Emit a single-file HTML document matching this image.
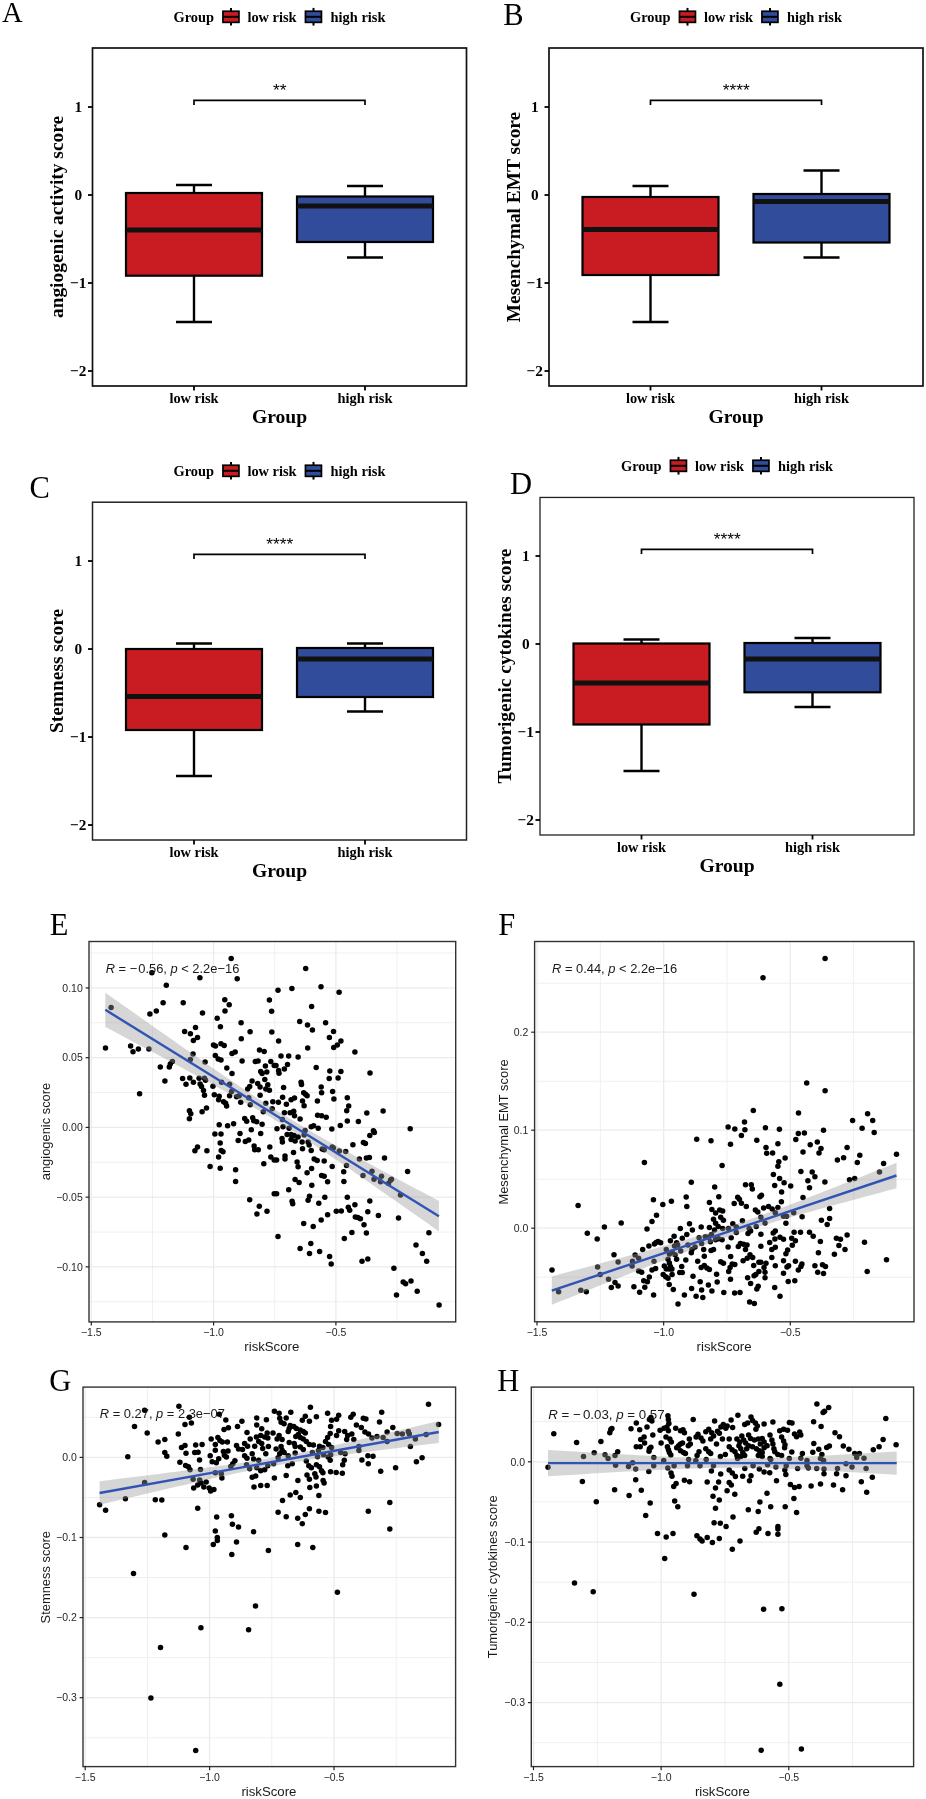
<!DOCTYPE html>
<html><head><meta charset="utf-8"><title>Figure</title>
<style>
html,body{margin:0;padding:0;background:#fff;}
body{width:926px;height:1799px;overflow:hidden;font-family:"Liberation Sans", sans-serif;}
svg{display:block;will-change:transform;}
</style></head>
<body>
<svg width="926" height="1799" viewBox="0 0 926 1799">
<rect x="0" y="0" width="926" height="1799" fill="#fff"/>
<text x="1.9" y="22.4" font-family="'Liberation Serif', serif" font-size="28.6" fill="#000">A</text>
<text x="173.5" y="21.9" font-family="'Liberation Serif', serif" font-weight="bold" font-size="14.4" fill="#000">Group</text>
<line x1="231.0" y1="7.9" x2="231.0" y2="25.6" stroke="#000" stroke-width="2"/>
<rect x="222.95" y="11.25" width="16" height="11.1" fill="#C81C22" stroke="#000" stroke-width="1.7"/>
<line x1="223.1" y1="16.8" x2="238.9" y2="16.8" stroke="#000" stroke-width="2"/>
<text x="247.4" y="21.9" font-family="'Liberation Serif', serif" font-weight="bold" font-size="14.4" fill="#000">low risk</text>
<line x1="313.5" y1="7.9" x2="313.5" y2="25.6" stroke="#000" stroke-width="2"/>
<rect x="305.45000000000005" y="11.25" width="16" height="11.1" fill="#324C9C" stroke="#000" stroke-width="1.7"/>
<line x1="305.6" y1="16.8" x2="321.40000000000003" y2="16.8" stroke="#000" stroke-width="2"/>
<text x="330.6" y="21.9" font-family="'Liberation Serif', serif" font-weight="bold" font-size="14.4" fill="#000">high risk</text>
<rect x="92.5" y="48" width="374" height="338" fill="none" stroke="#111" stroke-width="1.7"/>
<line x1="88" y1="107" x2="92.5" y2="107" stroke="#000" stroke-width="1.8"/>
<text x="78.3" y="112.1" text-anchor="middle" font-family="'Liberation Serif', serif" font-weight="bold" font-size="15.3" fill="#000">1</text>
<line x1="88" y1="195" x2="92.5" y2="195" stroke="#000" stroke-width="1.8"/>
<text x="78.3" y="200.1" text-anchor="middle" font-family="'Liberation Serif', serif" font-weight="bold" font-size="15.3" fill="#000">0</text>
<line x1="88" y1="283" x2="92.5" y2="283" stroke="#000" stroke-width="1.8"/>
<text x="78.3" y="288.1" text-anchor="middle" font-family="'Liberation Serif', serif" font-weight="bold" font-size="15.3" fill="#000">−1</text>
<line x1="88" y1="371" x2="92.5" y2="371" stroke="#000" stroke-width="1.8"/>
<text x="78.3" y="376.1" text-anchor="middle" font-family="'Liberation Serif', serif" font-weight="bold" font-size="15.3" fill="#000">−2</text>
<line x1="194" y1="386" x2="194" y2="390.5" stroke="#000" stroke-width="1.8"/>
<text x="194" y="402.9" text-anchor="middle" font-family="'Liberation Serif', serif" font-weight="bold" font-size="14.4" fill="#000">low risk</text>
<line x1="365" y1="386" x2="365" y2="390.5" stroke="#000" stroke-width="1.8"/>
<text x="365" y="402.9" text-anchor="middle" font-family="'Liberation Serif', serif" font-weight="bold" font-size="14.4" fill="#000">high risk</text>
<text x="279.5" y="422.9" text-anchor="middle" font-family="'Liberation Serif', serif" font-weight="bold" font-size="19.6" fill="#000">Group</text>
<text transform="translate(63.2,217) rotate(-90)" x="0" y="0" text-anchor="middle" font-family="'Liberation Serif', serif" font-weight="bold" font-size="19.4" fill="#000">angiogenic activity score</text>
<path d="M194 105 V100.3 H365 V105" fill="none" stroke="#000" stroke-width="1.7"/>
<text x="279.8" y="96.4" text-anchor="middle" font-family="'Liberation Sans', sans-serif" font-size="17.4" fill="#000">**</text>
<line x1="194" y1="185" x2="194" y2="322" stroke="#000" stroke-width="2.4"/>
<line x1="176" y1="185" x2="212" y2="185" stroke="#000" stroke-width="2.4"/>
<line x1="176" y1="322" x2="212" y2="322" stroke="#000" stroke-width="2.4"/>
<rect x="126" y="193" width="136" height="82.69999999999999" fill="#C81C22" stroke="#000" stroke-width="2.2"/>
<line x1="126" y1="230" x2="262" y2="230" stroke="#111" stroke-width="5"/>
<line x1="365" y1="186" x2="365" y2="257.5" stroke="#000" stroke-width="2.4"/>
<line x1="347" y1="186" x2="383" y2="186" stroke="#000" stroke-width="2.4"/>
<line x1="347" y1="257.5" x2="383" y2="257.5" stroke="#000" stroke-width="2.4"/>
<rect x="297" y="196.5" width="136" height="45.5" fill="#324C9C" stroke="#000" stroke-width="2.2"/>
<line x1="297" y1="206" x2="433" y2="206" stroke="#111" stroke-width="5"/>
<text x="503.2" y="25.1" font-family="'Liberation Serif', serif" font-size="30.5" fill="#000">B</text>
<text x="630.0" y="21.9" font-family="'Liberation Serif', serif" font-weight="bold" font-size="14.4" fill="#000">Group</text>
<line x1="687.5" y1="7.9" x2="687.5" y2="25.6" stroke="#000" stroke-width="2"/>
<rect x="679.45" y="11.25" width="16" height="11.1" fill="#C81C22" stroke="#000" stroke-width="1.7"/>
<line x1="679.6" y1="16.8" x2="695.4" y2="16.8" stroke="#000" stroke-width="2"/>
<text x="703.9" y="21.9" font-family="'Liberation Serif', serif" font-weight="bold" font-size="14.4" fill="#000">low risk</text>
<line x1="770.0" y1="7.9" x2="770.0" y2="25.6" stroke="#000" stroke-width="2"/>
<rect x="761.95" y="11.25" width="16" height="11.1" fill="#324C9C" stroke="#000" stroke-width="1.7"/>
<line x1="762.1" y1="16.8" x2="777.9" y2="16.8" stroke="#000" stroke-width="2"/>
<text x="787.1" y="21.9" font-family="'Liberation Serif', serif" font-weight="bold" font-size="14.4" fill="#000">high risk</text>
<rect x="549.0" y="48" width="374" height="338" fill="none" stroke="#111" stroke-width="1.7"/>
<line x1="544.5" y1="107" x2="549.0" y2="107" stroke="#000" stroke-width="1.8"/>
<text x="534.8" y="112.1" text-anchor="middle" font-family="'Liberation Serif', serif" font-weight="bold" font-size="15.3" fill="#000">1</text>
<line x1="544.5" y1="195" x2="549.0" y2="195" stroke="#000" stroke-width="1.8"/>
<text x="534.8" y="200.1" text-anchor="middle" font-family="'Liberation Serif', serif" font-weight="bold" font-size="15.3" fill="#000">0</text>
<line x1="544.5" y1="283" x2="549.0" y2="283" stroke="#000" stroke-width="1.8"/>
<text x="534.8" y="288.1" text-anchor="middle" font-family="'Liberation Serif', serif" font-weight="bold" font-size="15.3" fill="#000">−1</text>
<line x1="544.5" y1="371" x2="549.0" y2="371" stroke="#000" stroke-width="1.8"/>
<text x="534.8" y="376.1" text-anchor="middle" font-family="'Liberation Serif', serif" font-weight="bold" font-size="15.3" fill="#000">−2</text>
<line x1="650.5" y1="386" x2="650.5" y2="390.5" stroke="#000" stroke-width="1.8"/>
<text x="650.5" y="402.9" text-anchor="middle" font-family="'Liberation Serif', serif" font-weight="bold" font-size="14.4" fill="#000">low risk</text>
<line x1="821.5" y1="386" x2="821.5" y2="390.5" stroke="#000" stroke-width="1.8"/>
<text x="821.5" y="402.9" text-anchor="middle" font-family="'Liberation Serif', serif" font-weight="bold" font-size="14.4" fill="#000">high risk</text>
<text x="736.0" y="422.9" text-anchor="middle" font-family="'Liberation Serif', serif" font-weight="bold" font-size="19.6" fill="#000">Group</text>
<text transform="translate(519.7,217) rotate(-90)" x="0" y="0" text-anchor="middle" font-family="'Liberation Serif', serif" font-weight="bold" font-size="19.4" fill="#000">Mesenchymal EMT score</text>
<path d="M650.5 105 V100.3 H821.5 V105" fill="none" stroke="#000" stroke-width="1.7"/>
<text x="736.3" y="96.4" text-anchor="middle" font-family="'Liberation Sans', sans-serif" font-size="17.4" fill="#000">****</text>
<line x1="650.5" y1="186" x2="650.5" y2="322" stroke="#000" stroke-width="2.4"/>
<line x1="632.5" y1="186" x2="668.5" y2="186" stroke="#000" stroke-width="2.4"/>
<line x1="632.5" y1="322" x2="668.5" y2="322" stroke="#000" stroke-width="2.4"/>
<rect x="582.5" y="197" width="136" height="78" fill="#C81C22" stroke="#000" stroke-width="2.2"/>
<line x1="582.5" y1="229.5" x2="718.5" y2="229.5" stroke="#111" stroke-width="5"/>
<line x1="821.5" y1="170.5" x2="821.5" y2="257.5" stroke="#000" stroke-width="2.4"/>
<line x1="803.5" y1="170.5" x2="839.5" y2="170.5" stroke="#000" stroke-width="2.4"/>
<line x1="803.5" y1="257.5" x2="839.5" y2="257.5" stroke="#000" stroke-width="2.4"/>
<rect x="753.5" y="194" width="136" height="48.5" fill="#324C9C" stroke="#000" stroke-width="2.2"/>
<line x1="753.5" y1="201.5" x2="889.5" y2="201.5" stroke="#111" stroke-width="5"/>
<text x="29.6" y="497.6" font-family="'Liberation Serif', serif" font-size="30.5" fill="#000">C</text>
<text x="173.5" y="475.9" font-family="'Liberation Serif', serif" font-weight="bold" font-size="14.4" fill="#000">Group</text>
<line x1="231.0" y1="461.9" x2="231.0" y2="479.59999999999997" stroke="#000" stroke-width="2"/>
<rect x="222.95" y="465.25" width="16" height="11.1" fill="#C81C22" stroke="#000" stroke-width="1.7"/>
<line x1="223.1" y1="470.79999999999995" x2="238.9" y2="470.79999999999995" stroke="#000" stroke-width="2"/>
<text x="247.4" y="475.9" font-family="'Liberation Serif', serif" font-weight="bold" font-size="14.4" fill="#000">low risk</text>
<line x1="313.5" y1="461.9" x2="313.5" y2="479.59999999999997" stroke="#000" stroke-width="2"/>
<rect x="305.45000000000005" y="465.25" width="16" height="11.1" fill="#324C9C" stroke="#000" stroke-width="1.7"/>
<line x1="305.6" y1="470.79999999999995" x2="321.40000000000003" y2="470.79999999999995" stroke="#000" stroke-width="2"/>
<text x="330.6" y="475.9" font-family="'Liberation Serif', serif" font-weight="bold" font-size="14.4" fill="#000">high risk</text>
<rect x="92.5" y="502.2" width="374" height="337.8" fill="none" stroke="#222" stroke-width="1.5"/>
<line x1="88" y1="561" x2="92.5" y2="561" stroke="#000" stroke-width="1.8"/>
<text x="78.3" y="566.1" text-anchor="middle" font-family="'Liberation Serif', serif" font-weight="bold" font-size="15.3" fill="#000">1</text>
<line x1="88" y1="649" x2="92.5" y2="649" stroke="#000" stroke-width="1.8"/>
<text x="78.3" y="654.1" text-anchor="middle" font-family="'Liberation Serif', serif" font-weight="bold" font-size="15.3" fill="#000">0</text>
<line x1="88" y1="737" x2="92.5" y2="737" stroke="#000" stroke-width="1.8"/>
<text x="78.3" y="742.1" text-anchor="middle" font-family="'Liberation Serif', serif" font-weight="bold" font-size="15.3" fill="#000">−1</text>
<line x1="88" y1="825" x2="92.5" y2="825" stroke="#000" stroke-width="1.8"/>
<text x="78.3" y="830.1" text-anchor="middle" font-family="'Liberation Serif', serif" font-weight="bold" font-size="15.3" fill="#000">−2</text>
<line x1="194" y1="840" x2="194" y2="844.5" stroke="#000" stroke-width="1.8"/>
<text x="194" y="856.9" text-anchor="middle" font-family="'Liberation Serif', serif" font-weight="bold" font-size="14.4" fill="#000">low risk</text>
<line x1="365" y1="840" x2="365" y2="844.5" stroke="#000" stroke-width="1.8"/>
<text x="365" y="856.9" text-anchor="middle" font-family="'Liberation Serif', serif" font-weight="bold" font-size="14.4" fill="#000">high risk</text>
<text x="279.5" y="876.9" text-anchor="middle" font-family="'Liberation Serif', serif" font-weight="bold" font-size="19.6" fill="#000">Group</text>
<text transform="translate(63.2,671) rotate(-90)" x="0" y="0" text-anchor="middle" font-family="'Liberation Serif', serif" font-weight="bold" font-size="19.4" fill="#000">Stemness score</text>
<path d="M194 559 V554.3 H365 V559" fill="none" stroke="#000" stroke-width="1.7"/>
<text x="279.8" y="550.4" text-anchor="middle" font-family="'Liberation Sans', sans-serif" font-size="17.4" fill="#000">****</text>
<line x1="194" y1="643.5" x2="194" y2="776" stroke="#000" stroke-width="2.4"/>
<line x1="176" y1="643.5" x2="212" y2="643.5" stroke="#000" stroke-width="2.4"/>
<line x1="176" y1="776" x2="212" y2="776" stroke="#000" stroke-width="2.4"/>
<rect x="126" y="649" width="136" height="81" fill="#C81C22" stroke="#000" stroke-width="2.2"/>
<line x1="126" y1="696.5" x2="262" y2="696.5" stroke="#111" stroke-width="5"/>
<line x1="365" y1="643.5" x2="365" y2="711.5" stroke="#000" stroke-width="2.4"/>
<line x1="347" y1="643.5" x2="383" y2="643.5" stroke="#000" stroke-width="2.4"/>
<line x1="347" y1="711.5" x2="383" y2="711.5" stroke="#000" stroke-width="2.4"/>
<rect x="297" y="648" width="136" height="49" fill="#324C9C" stroke="#000" stroke-width="2.2"/>
<line x1="297" y1="659" x2="433" y2="659" stroke="#111" stroke-width="5"/>
<text x="509.9" y="494" font-family="'Liberation Serif', serif" font-size="30.5" fill="#000">D</text>
<text x="621.0" y="470.9" font-family="'Liberation Serif', serif" font-weight="bold" font-size="14.4" fill="#000">Group</text>
<line x1="678.5" y1="456.9" x2="678.5" y2="474.59999999999997" stroke="#000" stroke-width="2"/>
<rect x="670.45" y="460.25" width="16" height="11.1" fill="#C81C22" stroke="#000" stroke-width="1.7"/>
<line x1="670.6" y1="465.79999999999995" x2="686.4" y2="465.79999999999995" stroke="#000" stroke-width="2"/>
<text x="694.9" y="470.9" font-family="'Liberation Serif', serif" font-weight="bold" font-size="14.4" fill="#000">low risk</text>
<line x1="761.0" y1="456.9" x2="761.0" y2="474.59999999999997" stroke="#000" stroke-width="2"/>
<rect x="752.95" y="460.25" width="16" height="11.1" fill="#324C9C" stroke="#000" stroke-width="1.7"/>
<line x1="753.1" y1="465.79999999999995" x2="768.9" y2="465.79999999999995" stroke="#000" stroke-width="2"/>
<text x="778.1" y="470.9" font-family="'Liberation Serif', serif" font-weight="bold" font-size="14.4" fill="#000">high risk</text>
<rect x="540.0" y="497.45" width="374" height="337.55" fill="none" stroke="#222" stroke-width="1.3"/>
<line x1="535.5" y1="556" x2="540.0" y2="556" stroke="#000" stroke-width="1.8"/>
<text x="525.8" y="561.1" text-anchor="middle" font-family="'Liberation Serif', serif" font-weight="bold" font-size="15.3" fill="#000">1</text>
<line x1="535.5" y1="644" x2="540.0" y2="644" stroke="#000" stroke-width="1.8"/>
<text x="525.8" y="649.1" text-anchor="middle" font-family="'Liberation Serif', serif" font-weight="bold" font-size="15.3" fill="#000">0</text>
<line x1="535.5" y1="732" x2="540.0" y2="732" stroke="#000" stroke-width="1.8"/>
<text x="525.8" y="737.1" text-anchor="middle" font-family="'Liberation Serif', serif" font-weight="bold" font-size="15.3" fill="#000">−1</text>
<line x1="535.5" y1="820" x2="540.0" y2="820" stroke="#000" stroke-width="1.8"/>
<text x="525.8" y="825.1" text-anchor="middle" font-family="'Liberation Serif', serif" font-weight="bold" font-size="15.3" fill="#000">−2</text>
<line x1="641.5" y1="835" x2="641.5" y2="839.5" stroke="#000" stroke-width="1.8"/>
<text x="641.5" y="851.9" text-anchor="middle" font-family="'Liberation Serif', serif" font-weight="bold" font-size="14.4" fill="#000">low risk</text>
<line x1="812.5" y1="835" x2="812.5" y2="839.5" stroke="#000" stroke-width="1.8"/>
<text x="812.5" y="851.9" text-anchor="middle" font-family="'Liberation Serif', serif" font-weight="bold" font-size="14.4" fill="#000">high risk</text>
<text x="727.0" y="871.9" text-anchor="middle" font-family="'Liberation Serif', serif" font-weight="bold" font-size="19.6" fill="#000">Group</text>
<text transform="translate(510.7,666) rotate(-90)" x="0" y="0" text-anchor="middle" font-family="'Liberation Serif', serif" font-weight="bold" font-size="19.4" fill="#000">Tumorigenic cytokines score</text>
<path d="M641.5 554 V549.3 H812.5 V554" fill="none" stroke="#000" stroke-width="1.7"/>
<text x="727.3" y="545.4" text-anchor="middle" font-family="'Liberation Sans', sans-serif" font-size="17.4" fill="#000">****</text>
<line x1="641.5" y1="639.5" x2="641.5" y2="771" stroke="#000" stroke-width="2.4"/>
<line x1="623.5" y1="639.5" x2="659.5" y2="639.5" stroke="#000" stroke-width="2.4"/>
<line x1="623.5" y1="771" x2="659.5" y2="771" stroke="#000" stroke-width="2.4"/>
<rect x="573.5" y="643.5" width="136" height="81.0" fill="#C81C22" stroke="#000" stroke-width="2.2"/>
<line x1="573.5" y1="683" x2="709.5" y2="683" stroke="#111" stroke-width="5"/>
<line x1="812.5" y1="638" x2="812.5" y2="707" stroke="#000" stroke-width="2.4"/>
<line x1="794.5" y1="638" x2="830.5" y2="638" stroke="#000" stroke-width="2.4"/>
<line x1="794.5" y1="707" x2="830.5" y2="707" stroke="#000" stroke-width="2.4"/>
<rect x="744.5" y="643" width="136" height="49.299999999999955" fill="#324C9C" stroke="#000" stroke-width="2.2"/>
<line x1="744.5" y1="659" x2="880.5" y2="659" stroke="#111" stroke-width="5"/>
<text x="49.7" y="935" font-family="'Liberation Serif', serif" font-size="30.5" fill="#000">E</text>
<line x1="152.45" y1="941.5" x2="152.45" y2="1321.9" stroke="#F0F0F0" stroke-width="1"/>
<line x1="274.75" y1="941.5" x2="274.75" y2="1321.9" stroke="#F0F0F0" stroke-width="1"/>
<line x1="397.05" y1="941.5" x2="397.05" y2="1321.9" stroke="#F0F0F0" stroke-width="1"/>
<line x1="89.0" y1="953.06" x2="455.7" y2="953.06" stroke="#F0F0F0" stroke-width="1"/>
<line x1="89.0" y1="1022.80" x2="455.7" y2="1022.80" stroke="#F0F0F0" stroke-width="1"/>
<line x1="89.0" y1="1092.53" x2="455.7" y2="1092.53" stroke="#F0F0F0" stroke-width="1"/>
<line x1="89.0" y1="1162.27" x2="455.7" y2="1162.27" stroke="#F0F0F0" stroke-width="1"/>
<line x1="89.0" y1="1232.00" x2="455.7" y2="1232.00" stroke="#F0F0F0" stroke-width="1"/>
<line x1="89.0" y1="1301.74" x2="455.7" y2="1301.74" stroke="#F0F0F0" stroke-width="1"/>
<line x1="91.30" y1="941.5" x2="91.30" y2="1321.9" stroke="#EBEBEB" stroke-width="1.3"/>
<line x1="213.60" y1="941.5" x2="213.60" y2="1321.9" stroke="#EBEBEB" stroke-width="1.3"/>
<line x1="335.90" y1="941.5" x2="335.90" y2="1321.9" stroke="#EBEBEB" stroke-width="1.3"/>
<line x1="89.0" y1="987.93" x2="455.7" y2="987.93" stroke="#EBEBEB" stroke-width="1.3"/>
<line x1="89.0" y1="1057.67" x2="455.7" y2="1057.67" stroke="#EBEBEB" stroke-width="1.3"/>
<line x1="89.0" y1="1127.40" x2="455.7" y2="1127.40" stroke="#EBEBEB" stroke-width="1.3"/>
<line x1="89.0" y1="1197.13" x2="455.7" y2="1197.13" stroke="#EBEBEB" stroke-width="1.3"/>
<line x1="89.0" y1="1266.87" x2="455.7" y2="1266.87" stroke="#EBEBEB" stroke-width="1.3"/>
<circle cx="231.2" cy="958.5" r="2.75" fill="#000"/>
<circle cx="151.9" cy="972.7" r="2.75" fill="#000"/>
<circle cx="199.9" cy="977.8" r="2.75" fill="#000"/>
<circle cx="237.2" cy="978.8" r="2.75" fill="#000"/>
<circle cx="166.3" cy="985.2" r="2.75" fill="#000"/>
<circle cx="269.4" cy="999.9" r="2.75" fill="#000"/>
<circle cx="224.8" cy="999.7" r="2.75" fill="#000"/>
<circle cx="229.2" cy="1004.7" r="2.75" fill="#000"/>
<circle cx="163.1" cy="1002.7" r="2.75" fill="#000"/>
<circle cx="183.2" cy="1002.7" r="2.75" fill="#000"/>
<circle cx="111.1" cy="1007.5" r="2.75" fill="#000"/>
<circle cx="156.3" cy="1010.9" r="2.75" fill="#000"/>
<circle cx="149.9" cy="1013.9" r="2.75" fill="#000"/>
<circle cx="202.5" cy="1012.9" r="2.75" fill="#000"/>
<circle cx="225.0" cy="1010.9" r="2.75" fill="#000"/>
<circle cx="271.6" cy="1011.3" r="2.75" fill="#000"/>
<circle cx="217.2" cy="1018.3" r="2.75" fill="#000"/>
<circle cx="241.1" cy="1022.8" r="2.75" fill="#000"/>
<circle cx="195.5" cy="1027.4" r="2.75" fill="#000"/>
<circle cx="220.4" cy="1026.8" r="2.75" fill="#000"/>
<circle cx="184.6" cy="1031.4" r="2.75" fill="#000"/>
<circle cx="190.4" cy="1033.8" r="2.75" fill="#000"/>
<circle cx="197.5" cy="1037.4" r="2.75" fill="#000"/>
<circle cx="193.4" cy="1040.4" r="2.75" fill="#000"/>
<circle cx="250.1" cy="1031.8" r="2.75" fill="#000"/>
<circle cx="271.8" cy="1032.0" r="2.75" fill="#000"/>
<circle cx="241.3" cy="1038.8" r="2.75" fill="#000"/>
<circle cx="105.5" cy="1047.9" r="2.75" fill="#000"/>
<circle cx="130.6" cy="1045.9" r="2.75" fill="#000"/>
<circle cx="133.0" cy="1051.7" r="2.75" fill="#000"/>
<circle cx="138.4" cy="1049.1" r="2.75" fill="#000"/>
<circle cx="148.9" cy="1049.1" r="2.75" fill="#000"/>
<circle cx="213.5" cy="1045.0" r="2.75" fill="#000"/>
<circle cx="215.5" cy="1045.9" r="2.75" fill="#000"/>
<circle cx="221.0" cy="1043.8" r="2.75" fill="#000"/>
<circle cx="224.2" cy="1045.4" r="2.75" fill="#000"/>
<circle cx="193.0" cy="1053.9" r="2.75" fill="#000"/>
<circle cx="190.4" cy="1059.5" r="2.75" fill="#000"/>
<circle cx="215.3" cy="1055.5" r="2.75" fill="#000"/>
<circle cx="218.2" cy="1058.9" r="2.75" fill="#000"/>
<circle cx="221.0" cy="1059.9" r="2.75" fill="#000"/>
<circle cx="232.0" cy="1053.5" r="2.75" fill="#000"/>
<circle cx="235.2" cy="1052.1" r="2.75" fill="#000"/>
<circle cx="259.5" cy="1050.1" r="2.75" fill="#000"/>
<circle cx="264.2" cy="1051.5" r="2.75" fill="#000"/>
<circle cx="172.4" cy="1061.5" r="2.75" fill="#000"/>
<circle cx="170.3" cy="1063.9" r="2.75" fill="#000"/>
<circle cx="169.3" cy="1066.9" r="2.75" fill="#000"/>
<circle cx="160.3" cy="1066.9" r="2.75" fill="#000"/>
<circle cx="205.1" cy="1062.1" r="2.75" fill="#000"/>
<circle cx="242.1" cy="1061.1" r="2.75" fill="#000"/>
<circle cx="255.3" cy="1061.5" r="2.75" fill="#000"/>
<circle cx="258.1" cy="1060.9" r="2.75" fill="#000"/>
<circle cx="270.8" cy="1061.5" r="2.75" fill="#000"/>
<circle cx="265.4" cy="1065.9" r="2.75" fill="#000"/>
<circle cx="274.2" cy="1065.5" r="2.75" fill="#000"/>
<circle cx="226.8" cy="1067.9" r="2.75" fill="#000"/>
<circle cx="232.0" cy="1073.6" r="2.75" fill="#000"/>
<circle cx="260.7" cy="1071.6" r="2.75" fill="#000"/>
<circle cx="266.8" cy="1072.0" r="2.75" fill="#000"/>
<circle cx="262.1" cy="1073.6" r="2.75" fill="#000"/>
<circle cx="164.9" cy="1081.0" r="2.75" fill="#000"/>
<circle cx="182.6" cy="1078.4" r="2.75" fill="#000"/>
<circle cx="189.8" cy="1078.0" r="2.75" fill="#000"/>
<circle cx="186.0" cy="1084.2" r="2.75" fill="#000"/>
<circle cx="193.4" cy="1082.2" r="2.75" fill="#000"/>
<circle cx="199.1" cy="1078.2" r="2.75" fill="#000"/>
<circle cx="204.5" cy="1078.2" r="2.75" fill="#000"/>
<circle cx="205.5" cy="1080.2" r="2.75" fill="#000"/>
<circle cx="200.1" cy="1084.0" r="2.75" fill="#000"/>
<circle cx="201.5" cy="1086.6" r="2.75" fill="#000"/>
<circle cx="212.9" cy="1086.2" r="2.75" fill="#000"/>
<circle cx="221.6" cy="1082.2" r="2.75" fill="#000"/>
<circle cx="229.6" cy="1084.2" r="2.75" fill="#000"/>
<circle cx="252.1" cy="1081.0" r="2.75" fill="#000"/>
<circle cx="257.7" cy="1083.6" r="2.75" fill="#000"/>
<circle cx="249.7" cy="1086.6" r="2.75" fill="#000"/>
<circle cx="247.7" cy="1089.0" r="2.75" fill="#000"/>
<circle cx="264.8" cy="1079.6" r="2.75" fill="#000"/>
<circle cx="267.8" cy="1084.8" r="2.75" fill="#000"/>
<circle cx="260.1" cy="1087.0" r="2.75" fill="#000"/>
<circle cx="265.8" cy="1089.0" r="2.75" fill="#000"/>
<circle cx="269.4" cy="1090.2" r="2.75" fill="#000"/>
<circle cx="203.5" cy="1090.6" r="2.75" fill="#000"/>
<circle cx="204.5" cy="1095.3" r="2.75" fill="#000"/>
<circle cx="214.3" cy="1094.7" r="2.75" fill="#000"/>
<circle cx="219.2" cy="1096.3" r="2.75" fill="#000"/>
<circle cx="218.6" cy="1099.7" r="2.75" fill="#000"/>
<circle cx="223.6" cy="1101.7" r="2.75" fill="#000"/>
<circle cx="226.6" cy="1106.1" r="2.75" fill="#000"/>
<circle cx="225.6" cy="1103.3" r="2.75" fill="#000"/>
<circle cx="231.6" cy="1091.6" r="2.75" fill="#000"/>
<circle cx="236.6" cy="1096.7" r="2.75" fill="#000"/>
<circle cx="239.2" cy="1095.7" r="2.75" fill="#000"/>
<circle cx="240.7" cy="1102.3" r="2.75" fill="#000"/>
<circle cx="248.7" cy="1097.7" r="2.75" fill="#000"/>
<circle cx="250.3" cy="1104.7" r="2.75" fill="#000"/>
<circle cx="229.6" cy="1095.7" r="2.75" fill="#000"/>
<circle cx="260.1" cy="1095.3" r="2.75" fill="#000"/>
<circle cx="265.8" cy="1103.3" r="2.75" fill="#000"/>
<circle cx="272.8" cy="1101.7" r="2.75" fill="#000"/>
<circle cx="272.2" cy="1108.7" r="2.75" fill="#000"/>
<circle cx="263.3" cy="1111.7" r="2.75" fill="#000"/>
<circle cx="139.6" cy="1093.7" r="2.75" fill="#000"/>
<circle cx="189.4" cy="1110.7" r="2.75" fill="#000"/>
<circle cx="190.8" cy="1113.7" r="2.75" fill="#000"/>
<circle cx="189.4" cy="1118.8" r="2.75" fill="#000"/>
<circle cx="206.5" cy="1108.1" r="2.75" fill="#000"/>
<circle cx="202.1" cy="1111.7" r="2.75" fill="#000"/>
<circle cx="244.7" cy="1118.4" r="2.75" fill="#000"/>
<circle cx="246.7" cy="1121.2" r="2.75" fill="#000"/>
<circle cx="252.7" cy="1117.8" r="2.75" fill="#000"/>
<circle cx="253.7" cy="1120.8" r="2.75" fill="#000"/>
<circle cx="256.7" cy="1121.8" r="2.75" fill="#000"/>
<circle cx="262.1" cy="1124.2" r="2.75" fill="#000"/>
<circle cx="219.2" cy="1124.8" r="2.75" fill="#000"/>
<circle cx="227.6" cy="1125.8" r="2.75" fill="#000"/>
<circle cx="233.6" cy="1123.8" r="2.75" fill="#000"/>
<circle cx="251.3" cy="1129.8" r="2.75" fill="#000"/>
<circle cx="305.7" cy="968.5" r="2.75" fill="#000"/>
<circle cx="278.0" cy="990.2" r="2.75" fill="#000"/>
<circle cx="291.9" cy="988.6" r="2.75" fill="#000"/>
<circle cx="321.0" cy="986.8" r="2.75" fill="#000"/>
<circle cx="339.1" cy="992.2" r="2.75" fill="#000"/>
<circle cx="311.6" cy="1006.5" r="2.75" fill="#000"/>
<circle cx="299.7" cy="1021.5" r="2.75" fill="#000"/>
<circle cx="307.5" cy="1025.0" r="2.75" fill="#000"/>
<circle cx="312.4" cy="1030.0" r="2.75" fill="#000"/>
<circle cx="325.6" cy="1022.8" r="2.75" fill="#000"/>
<circle cx="333.5" cy="1031.6" r="2.75" fill="#000"/>
<circle cx="329.4" cy="1037.4" r="2.75" fill="#000"/>
<circle cx="278.6" cy="1041.0" r="2.75" fill="#000"/>
<circle cx="307.7" cy="1048.1" r="2.75" fill="#000"/>
<circle cx="333.7" cy="1047.5" r="2.75" fill="#000"/>
<circle cx="337.3" cy="1045.0" r="2.75" fill="#000"/>
<circle cx="340.9" cy="1041.0" r="2.75" fill="#000"/>
<circle cx="354.9" cy="1052.1" r="2.75" fill="#000"/>
<circle cx="281.0" cy="1056.1" r="2.75" fill="#000"/>
<circle cx="288.7" cy="1056.1" r="2.75" fill="#000"/>
<circle cx="298.1" cy="1056.9" r="2.75" fill="#000"/>
<circle cx="276.0" cy="1065.5" r="2.75" fill="#000"/>
<circle cx="278.6" cy="1070.6" r="2.75" fill="#000"/>
<circle cx="279.0" cy="1073.2" r="2.75" fill="#000"/>
<circle cx="284.4" cy="1069.0" r="2.75" fill="#000"/>
<circle cx="287.5" cy="1064.5" r="2.75" fill="#000"/>
<circle cx="316.2" cy="1067.5" r="2.75" fill="#000"/>
<circle cx="329.8" cy="1071.0" r="2.75" fill="#000"/>
<circle cx="340.9" cy="1071.6" r="2.75" fill="#000"/>
<circle cx="329.2" cy="1078.4" r="2.75" fill="#000"/>
<circle cx="338.1" cy="1078.0" r="2.75" fill="#000"/>
<circle cx="370.0" cy="1073.0" r="2.75" fill="#000"/>
<circle cx="301.1" cy="1082.2" r="2.75" fill="#000"/>
<circle cx="301.5" cy="1084.6" r="2.75" fill="#000"/>
<circle cx="283.6" cy="1087.6" r="2.75" fill="#000"/>
<circle cx="321.2" cy="1087.0" r="2.75" fill="#000"/>
<circle cx="321.6" cy="1092.7" r="2.75" fill="#000"/>
<circle cx="332.6" cy="1091.6" r="2.75" fill="#000"/>
<circle cx="303.7" cy="1092.7" r="2.75" fill="#000"/>
<circle cx="305.5" cy="1094.3" r="2.75" fill="#000"/>
<circle cx="307.1" cy="1095.7" r="2.75" fill="#000"/>
<circle cx="282.6" cy="1097.3" r="2.75" fill="#000"/>
<circle cx="291.1" cy="1099.7" r="2.75" fill="#000"/>
<circle cx="294.5" cy="1098.1" r="2.75" fill="#000"/>
<circle cx="278.4" cy="1102.3" r="2.75" fill="#000"/>
<circle cx="286.4" cy="1104.3" r="2.75" fill="#000"/>
<circle cx="302.5" cy="1101.1" r="2.75" fill="#000"/>
<circle cx="304.1" cy="1105.7" r="2.75" fill="#000"/>
<circle cx="317.4" cy="1101.1" r="2.75" fill="#000"/>
<circle cx="333.9" cy="1098.9" r="2.75" fill="#000"/>
<circle cx="347.3" cy="1097.7" r="2.75" fill="#000"/>
<circle cx="348.7" cy="1106.1" r="2.75" fill="#000"/>
<circle cx="346.7" cy="1110.7" r="2.75" fill="#000"/>
<circle cx="284.4" cy="1112.7" r="2.75" fill="#000"/>
<circle cx="290.1" cy="1112.7" r="2.75" fill="#000"/>
<circle cx="293.7" cy="1111.3" r="2.75" fill="#000"/>
<circle cx="294.5" cy="1115.8" r="2.75" fill="#000"/>
<circle cx="300.1" cy="1119.0" r="2.75" fill="#000"/>
<circle cx="317.6" cy="1115.3" r="2.75" fill="#000"/>
<circle cx="321.6" cy="1115.8" r="2.75" fill="#000"/>
<circle cx="326.2" cy="1117.2" r="2.75" fill="#000"/>
<circle cx="282.4" cy="1119.4" r="2.75" fill="#000"/>
<circle cx="366.8" cy="1112.9" r="2.75" fill="#000"/>
<circle cx="383.1" cy="1110.9" r="2.75" fill="#000"/>
<circle cx="347.3" cy="1121.0" r="2.75" fill="#000"/>
<circle cx="358.4" cy="1121.6" r="2.75" fill="#000"/>
<circle cx="340.3" cy="1125.4" r="2.75" fill="#000"/>
<circle cx="311.2" cy="1126.8" r="2.75" fill="#000"/>
<circle cx="313.6" cy="1125.8" r="2.75" fill="#000"/>
<circle cx="318.2" cy="1128.2" r="2.75" fill="#000"/>
<circle cx="331.8" cy="1129.0" r="2.75" fill="#000"/>
<circle cx="283.0" cy="1126.8" r="2.75" fill="#000"/>
<circle cx="289.1" cy="1128.2" r="2.75" fill="#000"/>
<circle cx="277.0" cy="1128.8" r="2.75" fill="#000"/>
<circle cx="373.4" cy="1130.8" r="2.75" fill="#000"/>
<circle cx="410.2" cy="1128.8" r="2.75" fill="#000"/>
<circle cx="305.1" cy="1130.4" r="2.75" fill="#000"/>
<circle cx="214.9" cy="1134.0" r="2.75" fill="#000"/>
<circle cx="221.0" cy="1134.0" r="2.75" fill="#000"/>
<circle cx="240.0" cy="1133.4" r="2.75" fill="#000"/>
<circle cx="260.7" cy="1133.4" r="2.75" fill="#000"/>
<circle cx="238.2" cy="1140.6" r="2.75" fill="#000"/>
<circle cx="245.3" cy="1141.6" r="2.75" fill="#000"/>
<circle cx="248.7" cy="1140.0" r="2.75" fill="#000"/>
<circle cx="220.2" cy="1143.1" r="2.75" fill="#000"/>
<circle cx="254.1" cy="1146.1" r="2.75" fill="#000"/>
<circle cx="254.7" cy="1149.7" r="2.75" fill="#000"/>
<circle cx="258.3" cy="1149.7" r="2.75" fill="#000"/>
<circle cx="269.8" cy="1147.1" r="2.75" fill="#000"/>
<circle cx="197.5" cy="1147.1" r="2.75" fill="#000"/>
<circle cx="194.9" cy="1150.7" r="2.75" fill="#000"/>
<circle cx="206.9" cy="1150.7" r="2.75" fill="#000"/>
<circle cx="221.2" cy="1150.5" r="2.75" fill="#000"/>
<circle cx="223.0" cy="1151.7" r="2.75" fill="#000"/>
<circle cx="218.6" cy="1157.1" r="2.75" fill="#000"/>
<circle cx="270.8" cy="1157.1" r="2.75" fill="#000"/>
<circle cx="274.2" cy="1160.1" r="2.75" fill="#000"/>
<circle cx="263.8" cy="1163.7" r="2.75" fill="#000"/>
<circle cx="210.1" cy="1166.6" r="2.75" fill="#000"/>
<circle cx="220.2" cy="1168.2" r="2.75" fill="#000"/>
<circle cx="235.6" cy="1169.8" r="2.75" fill="#000"/>
<circle cx="235.6" cy="1181.6" r="2.75" fill="#000"/>
<circle cx="274.2" cy="1193.7" r="2.75" fill="#000"/>
<circle cx="249.7" cy="1199.7" r="2.75" fill="#000"/>
<circle cx="259.3" cy="1206.3" r="2.75" fill="#000"/>
<circle cx="267.0" cy="1211.3" r="2.75" fill="#000"/>
<circle cx="256.9" cy="1214.0" r="2.75" fill="#000"/>
<circle cx="287.1" cy="1134.6" r="2.75" fill="#000"/>
<circle cx="291.1" cy="1134.6" r="2.75" fill="#000"/>
<circle cx="294.1" cy="1135.4" r="2.75" fill="#000"/>
<circle cx="282.0" cy="1138.6" r="2.75" fill="#000"/>
<circle cx="282.4" cy="1142.0" r="2.75" fill="#000"/>
<circle cx="291.1" cy="1139.4" r="2.75" fill="#000"/>
<circle cx="295.1" cy="1141.0" r="2.75" fill="#000"/>
<circle cx="298.1" cy="1137.0" r="2.75" fill="#000"/>
<circle cx="304.1" cy="1135.0" r="2.75" fill="#000"/>
<circle cx="302.1" cy="1142.0" r="2.75" fill="#000"/>
<circle cx="308.1" cy="1142.0" r="2.75" fill="#000"/>
<circle cx="309.1" cy="1145.1" r="2.75" fill="#000"/>
<circle cx="302.5" cy="1148.7" r="2.75" fill="#000"/>
<circle cx="311.2" cy="1150.5" r="2.75" fill="#000"/>
<circle cx="293.5" cy="1152.5" r="2.75" fill="#000"/>
<circle cx="322.2" cy="1149.1" r="2.75" fill="#000"/>
<circle cx="324.2" cy="1149.7" r="2.75" fill="#000"/>
<circle cx="332.2" cy="1147.1" r="2.75" fill="#000"/>
<circle cx="333.3" cy="1148.1" r="2.75" fill="#000"/>
<circle cx="339.3" cy="1151.1" r="2.75" fill="#000"/>
<circle cx="345.7" cy="1151.5" r="2.75" fill="#000"/>
<circle cx="352.9" cy="1144.7" r="2.75" fill="#000"/>
<circle cx="363.4" cy="1142.4" r="2.75" fill="#000"/>
<circle cx="365.4" cy="1143.5" r="2.75" fill="#000"/>
<circle cx="369.8" cy="1135.4" r="2.75" fill="#000"/>
<circle cx="374.4" cy="1132.6" r="2.75" fill="#000"/>
<circle cx="359.4" cy="1159.1" r="2.75" fill="#000"/>
<circle cx="366.4" cy="1158.1" r="2.75" fill="#000"/>
<circle cx="369.4" cy="1157.5" r="2.75" fill="#000"/>
<circle cx="384.5" cy="1158.1" r="2.75" fill="#000"/>
<circle cx="276.6" cy="1160.1" r="2.75" fill="#000"/>
<circle cx="285.0" cy="1156.1" r="2.75" fill="#000"/>
<circle cx="285.0" cy="1159.1" r="2.75" fill="#000"/>
<circle cx="297.1" cy="1162.1" r="2.75" fill="#000"/>
<circle cx="298.1" cy="1166.8" r="2.75" fill="#000"/>
<circle cx="314.2" cy="1159.1" r="2.75" fill="#000"/>
<circle cx="317.2" cy="1160.5" r="2.75" fill="#000"/>
<circle cx="324.2" cy="1161.1" r="2.75" fill="#000"/>
<circle cx="332.2" cy="1166.6" r="2.75" fill="#000"/>
<circle cx="311.6" cy="1168.6" r="2.75" fill="#000"/>
<circle cx="307.1" cy="1172.8" r="2.75" fill="#000"/>
<circle cx="321.6" cy="1175.6" r="2.75" fill="#000"/>
<circle cx="324.2" cy="1176.2" r="2.75" fill="#000"/>
<circle cx="327.6" cy="1181.8" r="2.75" fill="#000"/>
<circle cx="295.1" cy="1179.6" r="2.75" fill="#000"/>
<circle cx="299.1" cy="1182.6" r="2.75" fill="#000"/>
<circle cx="311.8" cy="1185.2" r="2.75" fill="#000"/>
<circle cx="343.7" cy="1171.8" r="2.75" fill="#000"/>
<circle cx="346.5" cy="1165.5" r="2.75" fill="#000"/>
<circle cx="343.9" cy="1181.6" r="2.75" fill="#000"/>
<circle cx="363.0" cy="1175.6" r="2.75" fill="#000"/>
<circle cx="372.0" cy="1171.2" r="2.75" fill="#000"/>
<circle cx="374.0" cy="1179.2" r="2.75" fill="#000"/>
<circle cx="381.5" cy="1176.2" r="2.75" fill="#000"/>
<circle cx="380.5" cy="1181.8" r="2.75" fill="#000"/>
<circle cx="388.5" cy="1183.6" r="2.75" fill="#000"/>
<circle cx="390.5" cy="1180.2" r="2.75" fill="#000"/>
<circle cx="391.5" cy="1179.2" r="2.75" fill="#000"/>
<circle cx="407.6" cy="1171.6" r="2.75" fill="#000"/>
<circle cx="400.5" cy="1194.9" r="2.75" fill="#000"/>
<circle cx="288.7" cy="1189.7" r="2.75" fill="#000"/>
<circle cx="276.6" cy="1193.7" r="2.75" fill="#000"/>
<circle cx="309.5" cy="1196.3" r="2.75" fill="#000"/>
<circle cx="308.1" cy="1200.3" r="2.75" fill="#000"/>
<circle cx="292.1" cy="1201.3" r="2.75" fill="#000"/>
<circle cx="292.7" cy="1203.7" r="2.75" fill="#000"/>
<circle cx="324.8" cy="1197.3" r="2.75" fill="#000"/>
<circle cx="318.8" cy="1203.3" r="2.75" fill="#000"/>
<circle cx="347.3" cy="1197.3" r="2.75" fill="#000"/>
<circle cx="369.8" cy="1200.9" r="2.75" fill="#000"/>
<circle cx="354.9" cy="1204.7" r="2.75" fill="#000"/>
<circle cx="348.3" cy="1207.3" r="2.75" fill="#000"/>
<circle cx="349.7" cy="1210.3" r="2.75" fill="#000"/>
<circle cx="336.3" cy="1211.3" r="2.75" fill="#000"/>
<circle cx="341.3" cy="1210.9" r="2.75" fill="#000"/>
<circle cx="327.6" cy="1214.8" r="2.75" fill="#000"/>
<circle cx="321.2" cy="1220.0" r="2.75" fill="#000"/>
<circle cx="303.7" cy="1223.4" r="2.75" fill="#000"/>
<circle cx="313.2" cy="1226.4" r="2.75" fill="#000"/>
<circle cx="355.3" cy="1217.0" r="2.75" fill="#000"/>
<circle cx="357.8" cy="1217.4" r="2.75" fill="#000"/>
<circle cx="360.4" cy="1218.8" r="2.75" fill="#000"/>
<circle cx="367.8" cy="1211.7" r="2.75" fill="#000"/>
<circle cx="378.4" cy="1215.4" r="2.75" fill="#000"/>
<circle cx="364.0" cy="1224.8" r="2.75" fill="#000"/>
<circle cx="398.5" cy="1218.0" r="2.75" fill="#000"/>
<circle cx="366.4" cy="1233.0" r="2.75" fill="#000"/>
<circle cx="351.9" cy="1232.4" r="2.75" fill="#000"/>
<circle cx="344.3" cy="1238.5" r="2.75" fill="#000"/>
<circle cx="278.0" cy="1236.5" r="2.75" fill="#000"/>
<circle cx="310.8" cy="1243.5" r="2.75" fill="#000"/>
<circle cx="300.1" cy="1248.5" r="2.75" fill="#000"/>
<circle cx="309.5" cy="1253.5" r="2.75" fill="#000"/>
<circle cx="319.6" cy="1251.5" r="2.75" fill="#000"/>
<circle cx="329.6" cy="1256.5" r="2.75" fill="#000"/>
<circle cx="331.2" cy="1264.0" r="2.75" fill="#000"/>
<circle cx="362.0" cy="1261.2" r="2.75" fill="#000"/>
<circle cx="367.8" cy="1259.0" r="2.75" fill="#000"/>
<circle cx="428.9" cy="1232.8" r="2.75" fill="#000"/>
<circle cx="416.0" cy="1244.9" r="2.75" fill="#000"/>
<circle cx="422.4" cy="1253.5" r="2.75" fill="#000"/>
<circle cx="426.7" cy="1261.2" r="2.75" fill="#000"/>
<circle cx="393.9" cy="1268.2" r="2.75" fill="#000"/>
<circle cx="403.2" cy="1282.0" r="2.75" fill="#000"/>
<circle cx="405.6" cy="1283.7" r="2.75" fill="#000"/>
<circle cx="411.0" cy="1281.0" r="2.75" fill="#000"/>
<circle cx="417.2" cy="1291.3" r="2.75" fill="#000"/>
<circle cx="396.5" cy="1295.1" r="2.75" fill="#000"/>
<circle cx="439.1" cy="1305.1" r="2.75" fill="#000"/>
<polygon points="105.3,992.7 113.6,998.6 122.0,1004.5 130.3,1010.3 138.7,1016.2 147.0,1022.1 155.3,1027.9 163.7,1033.8 172.0,1039.6 180.4,1045.5 188.7,1051.3 197.0,1057.1 205.4,1062.9 213.7,1068.7 222.1,1074.4 230.4,1080.1 238.7,1085.7 247.1,1091.3 255.4,1096.9 263.8,1102.3 272.1,1107.7 280.4,1113.0 288.8,1118.1 297.1,1123.1 305.5,1128.1 313.8,1132.9 322.1,1137.7 330.5,1142.4 338.8,1147.0 347.2,1151.6 355.5,1156.2 363.8,1160.7 372.2,1165.3 380.5,1169.8 388.9,1174.2 397.2,1178.7 405.5,1183.2 413.9,1187.7 422.2,1192.1 430.6,1196.6 438.9,1201.0 438.9,1231.4 430.6,1225.5 422.2,1219.6 413.9,1213.8 405.5,1207.9 397.2,1202.1 388.9,1196.2 380.5,1190.4 372.2,1184.6 363.8,1178.8 355.5,1173.0 347.2,1167.3 338.8,1161.6 330.5,1155.9 322.1,1150.3 313.8,1144.7 305.5,1139.2 297.1,1133.8 288.8,1128.5 280.4,1123.4 272.1,1118.3 263.8,1113.3 255.4,1108.5 247.1,1103.7 238.7,1099.0 230.4,1094.3 222.1,1089.7 213.7,1085.1 205.4,1080.6 197.0,1076.0 188.7,1071.5 180.4,1067.0 172.0,1062.5 163.7,1058.0 155.3,1053.6 147.0,1049.1 138.7,1044.7 130.3,1040.2 122.0,1035.8 113.6,1031.3 105.3,1026.9" fill="#999999" fill-opacity="0.4"/>
<line x1="105.3" y1="1009.8" x2="438.9" y2="1216.2" stroke="#3053B5" stroke-width="2.4"/>
<rect x="89.0" y="941.5" width="366.70" height="380.40" fill="none" stroke="#333" stroke-width="1.4"/>
<line x1="91.30" y1="1321.9" x2="91.30" y2="1325.5" stroke="#222" stroke-width="1.2"/>
<text x="91.30" y="1336.10" text-anchor="middle" font-family="'Liberation Sans', sans-serif" font-size="10.5" fill="#262626">−1.5</text>
<line x1="213.60" y1="1321.9" x2="213.60" y2="1325.5" stroke="#222" stroke-width="1.2"/>
<text x="213.60" y="1336.10" text-anchor="middle" font-family="'Liberation Sans', sans-serif" font-size="10.5" fill="#262626">−1.0</text>
<line x1="335.90" y1="1321.9" x2="335.90" y2="1325.5" stroke="#222" stroke-width="1.2"/>
<text x="335.90" y="1336.10" text-anchor="middle" font-family="'Liberation Sans', sans-serif" font-size="10.5" fill="#262626">−0.5</text>
<line x1="85.6" y1="987.93" x2="89.0" y2="987.93" stroke="#222" stroke-width="1.2"/>
<text x="82.8" y="991.68" text-anchor="end" font-family="'Liberation Sans', sans-serif" font-size="10.5" fill="#262626">0.10</text>
<line x1="85.6" y1="1057.67" x2="89.0" y2="1057.67" stroke="#222" stroke-width="1.2"/>
<text x="82.8" y="1061.42" text-anchor="end" font-family="'Liberation Sans', sans-serif" font-size="10.5" fill="#262626">0.05</text>
<line x1="85.6" y1="1127.40" x2="89.0" y2="1127.40" stroke="#222" stroke-width="1.2"/>
<text x="82.8" y="1131.15" text-anchor="end" font-family="'Liberation Sans', sans-serif" font-size="10.5" fill="#262626">0.00</text>
<line x1="85.6" y1="1197.13" x2="89.0" y2="1197.13" stroke="#222" stroke-width="1.2"/>
<text x="82.8" y="1200.88" text-anchor="end" font-family="'Liberation Sans', sans-serif" font-size="10.5" fill="#262626">−0.05</text>
<line x1="85.6" y1="1266.87" x2="89.0" y2="1266.87" stroke="#222" stroke-width="1.2"/>
<text x="82.8" y="1270.62" text-anchor="end" font-family="'Liberation Sans', sans-serif" font-size="10.5" fill="#262626">−0.10</text>
<text x="271.8" y="1350.5" text-anchor="middle" font-family="'Liberation Sans', sans-serif" font-size="13.2" fill="#1a1a1a">riskScore</text>
<text transform="translate(50.0,1131.5) rotate(-90)" text-anchor="middle" font-family="'Liberation Sans', sans-serif" font-size="12.9" fill="#1a1a1a">angiogenic score</text>
<text x="105.7" y="972.5" font-family="'Liberation Sans', sans-serif" font-size="12.9" fill="#1a1a1a"><tspan font-style="italic">R</tspan> = −<tspan dx="1">0.56, </tspan><tspan font-style="italic">p</tspan> &lt; 2.2e−16</text>
<text x="498.2" y="935" font-family="'Liberation Serif', serif" font-size="30.5" fill="#000">F</text>
<line x1="600.33" y1="941.5" x2="600.33" y2="1321.8" stroke="#F0F0F0" stroke-width="1"/>
<line x1="726.98" y1="941.5" x2="726.98" y2="1321.8" stroke="#F0F0F0" stroke-width="1"/>
<line x1="853.62" y1="941.5" x2="853.62" y2="1321.8" stroke="#F0F0F0" stroke-width="1"/>
<line x1="534.6" y1="983.20" x2="914.0" y2="983.20" stroke="#F0F0F0" stroke-width="1"/>
<line x1="534.6" y1="1081.20" x2="914.0" y2="1081.20" stroke="#F0F0F0" stroke-width="1"/>
<line x1="534.6" y1="1179.20" x2="914.0" y2="1179.20" stroke="#F0F0F0" stroke-width="1"/>
<line x1="534.6" y1="1277.20" x2="914.0" y2="1277.20" stroke="#F0F0F0" stroke-width="1"/>
<line x1="537.00" y1="941.5" x2="537.00" y2="1321.8" stroke="#EBEBEB" stroke-width="1.3"/>
<line x1="663.65" y1="941.5" x2="663.65" y2="1321.8" stroke="#EBEBEB" stroke-width="1.3"/>
<line x1="790.30" y1="941.5" x2="790.30" y2="1321.8" stroke="#EBEBEB" stroke-width="1.3"/>
<line x1="534.6" y1="1032.20" x2="914.0" y2="1032.20" stroke="#EBEBEB" stroke-width="1.3"/>
<line x1="534.6" y1="1130.20" x2="914.0" y2="1130.20" stroke="#EBEBEB" stroke-width="1.3"/>
<line x1="534.6" y1="1228.20" x2="914.0" y2="1228.20" stroke="#EBEBEB" stroke-width="1.3"/>
<circle cx="825.1" cy="958.4" r="2.75" fill="#000"/>
<circle cx="763.0" cy="977.7" r="2.75" fill="#000"/>
<circle cx="806.7" cy="1083.0" r="2.75" fill="#000"/>
<circle cx="825.1" cy="1090.8" r="2.75" fill="#000"/>
<circle cx="753.3" cy="1110.5" r="2.75" fill="#000"/>
<circle cx="798.5" cy="1112.9" r="2.75" fill="#000"/>
<circle cx="744.5" cy="1122.0" r="2.75" fill="#000"/>
<circle cx="728.1" cy="1127.1" r="2.75" fill="#000"/>
<circle cx="734.8" cy="1128.9" r="2.75" fill="#000"/>
<circle cx="744.9" cy="1129.8" r="2.75" fill="#000"/>
<circle cx="765.4" cy="1127.7" r="2.75" fill="#000"/>
<circle cx="779.4" cy="1129.2" r="2.75" fill="#000"/>
<circle cx="852.6" cy="1120.5" r="2.75" fill="#000"/>
<circle cx="867.6" cy="1113.8" r="2.75" fill="#000"/>
<circle cx="872.7" cy="1120.5" r="2.75" fill="#000"/>
<circle cx="862.1" cy="1128.3" r="2.75" fill="#000"/>
<circle cx="823.5" cy="1130.2" r="2.75" fill="#000"/>
<circle cx="696.7" cy="1139.2" r="2.75" fill="#000"/>
<circle cx="711.0" cy="1140.8" r="2.75" fill="#000"/>
<circle cx="722.1" cy="1165.5" r="2.75" fill="#000"/>
<circle cx="644.4" cy="1162.4" r="2.75" fill="#000"/>
<circle cx="691.3" cy="1182.3" r="2.75" fill="#000"/>
<circle cx="714.7" cy="1187.0" r="2.75" fill="#000"/>
<circle cx="718.8" cy="1196.7" r="2.75" fill="#000"/>
<circle cx="686.2" cy="1197.1" r="2.75" fill="#000"/>
<circle cx="653.4" cy="1199.7" r="2.75" fill="#000"/>
<circle cx="662.8" cy="1204.5" r="2.75" fill="#000"/>
<circle cx="671.4" cy="1201.2" r="2.75" fill="#000"/>
<circle cx="686.8" cy="1206.5" r="2.75" fill="#000"/>
<circle cx="709.4" cy="1202.4" r="2.75" fill="#000"/>
<circle cx="711.9" cy="1209.4" r="2.75" fill="#000"/>
<circle cx="578.1" cy="1205.5" r="2.75" fill="#000"/>
<circle cx="656.5" cy="1215.3" r="2.75" fill="#000"/>
<circle cx="652.0" cy="1221.5" r="2.75" fill="#000"/>
<circle cx="647.0" cy="1229.1" r="2.75" fill="#000"/>
<circle cx="621.2" cy="1222.9" r="2.75" fill="#000"/>
<circle cx="604.4" cy="1227.0" r="2.75" fill="#000"/>
<circle cx="587.3" cy="1233.2" r="2.75" fill="#000"/>
<circle cx="597.2" cy="1239.1" r="2.75" fill="#000"/>
<circle cx="680.3" cy="1228.5" r="2.75" fill="#000"/>
<circle cx="689.5" cy="1223.7" r="2.75" fill="#000"/>
<circle cx="692.4" cy="1229.9" r="2.75" fill="#000"/>
<circle cx="686.8" cy="1234.6" r="2.75" fill="#000"/>
<circle cx="701.2" cy="1227.0" r="2.75" fill="#000"/>
<circle cx="709.4" cy="1227.4" r="2.75" fill="#000"/>
<circle cx="715.6" cy="1213.1" r="2.75" fill="#000"/>
<circle cx="719.7" cy="1210.0" r="2.75" fill="#000"/>
<circle cx="722.7" cy="1211.0" r="2.75" fill="#000"/>
<circle cx="713.5" cy="1219.2" r="2.75" fill="#000"/>
<circle cx="715.6" cy="1223.3" r="2.75" fill="#000"/>
<circle cx="718.2" cy="1226.4" r="2.75" fill="#000"/>
<circle cx="720.7" cy="1217.2" r="2.75" fill="#000"/>
<circle cx="723.4" cy="1220.3" r="2.75" fill="#000"/>
<circle cx="714.5" cy="1230.1" r="2.75" fill="#000"/>
<circle cx="722.7" cy="1228.5" r="2.75" fill="#000"/>
<circle cx="674.1" cy="1236.3" r="2.75" fill="#000"/>
<circle cx="682.3" cy="1238.3" r="2.75" fill="#000"/>
<circle cx="670.4" cy="1240.8" r="2.75" fill="#000"/>
<circle cx="656.1" cy="1242.4" r="2.75" fill="#000"/>
<circle cx="658.1" cy="1241.4" r="2.75" fill="#000"/>
<circle cx="660.6" cy="1242.8" r="2.75" fill="#000"/>
<circle cx="654.4" cy="1243.9" r="2.75" fill="#000"/>
<circle cx="648.9" cy="1245.9" r="2.75" fill="#000"/>
<circle cx="642.7" cy="1249.4" r="2.75" fill="#000"/>
<circle cx="676.6" cy="1242.8" r="2.75" fill="#000"/>
<circle cx="674.5" cy="1245.9" r="2.75" fill="#000"/>
<circle cx="677.6" cy="1244.9" r="2.75" fill="#000"/>
<circle cx="687.9" cy="1244.9" r="2.75" fill="#000"/>
<circle cx="666.3" cy="1249.6" r="2.75" fill="#000"/>
<circle cx="669.4" cy="1254.1" r="2.75" fill="#000"/>
<circle cx="672.1" cy="1252.1" r="2.75" fill="#000"/>
<circle cx="675.1" cy="1254.7" r="2.75" fill="#000"/>
<circle cx="680.7" cy="1251.0" r="2.75" fill="#000"/>
<circle cx="692.0" cy="1249.6" r="2.75" fill="#000"/>
<circle cx="691.3" cy="1252.7" r="2.75" fill="#000"/>
<circle cx="695.0" cy="1246.9" r="2.75" fill="#000"/>
<circle cx="699.1" cy="1237.7" r="2.75" fill="#000"/>
<circle cx="705.3" cy="1236.7" r="2.75" fill="#000"/>
<circle cx="708.4" cy="1237.3" r="2.75" fill="#000"/>
<circle cx="711.5" cy="1234.6" r="2.75" fill="#000"/>
<circle cx="715.6" cy="1239.7" r="2.75" fill="#000"/>
<circle cx="718.6" cy="1238.7" r="2.75" fill="#000"/>
<circle cx="722.1" cy="1239.7" r="2.75" fill="#000"/>
<circle cx="710.4" cy="1241.8" r="2.75" fill="#000"/>
<circle cx="701.6" cy="1243.4" r="2.75" fill="#000"/>
<circle cx="703.7" cy="1249.6" r="2.75" fill="#000"/>
<circle cx="711.0" cy="1250.4" r="2.75" fill="#000"/>
<circle cx="713.5" cy="1249.6" r="2.75" fill="#000"/>
<circle cx="704.3" cy="1256.2" r="2.75" fill="#000"/>
<circle cx="697.7" cy="1261.3" r="2.75" fill="#000"/>
<circle cx="685.8" cy="1259.9" r="2.75" fill="#000"/>
<circle cx="676.6" cy="1259.2" r="2.75" fill="#000"/>
<circle cx="668.0" cy="1259.2" r="2.75" fill="#000"/>
<circle cx="669.4" cy="1262.9" r="2.75" fill="#000"/>
<circle cx="670.4" cy="1266.4" r="2.75" fill="#000"/>
<circle cx="664.3" cy="1266.0" r="2.75" fill="#000"/>
<circle cx="666.3" cy="1268.9" r="2.75" fill="#000"/>
<circle cx="669.4" cy="1269.1" r="2.75" fill="#000"/>
<circle cx="671.9" cy="1269.1" r="2.75" fill="#000"/>
<circle cx="663.2" cy="1274.6" r="2.75" fill="#000"/>
<circle cx="665.7" cy="1276.7" r="2.75" fill="#000"/>
<circle cx="668.0" cy="1278.3" r="2.75" fill="#000"/>
<circle cx="672.1" cy="1274.6" r="2.75" fill="#000"/>
<circle cx="681.7" cy="1266.4" r="2.75" fill="#000"/>
<circle cx="679.7" cy="1272.6" r="2.75" fill="#000"/>
<circle cx="682.3" cy="1272.6" r="2.75" fill="#000"/>
<circle cx="693.0" cy="1276.3" r="2.75" fill="#000"/>
<circle cx="701.2" cy="1267.4" r="2.75" fill="#000"/>
<circle cx="704.3" cy="1265.4" r="2.75" fill="#000"/>
<circle cx="706.9" cy="1268.1" r="2.75" fill="#000"/>
<circle cx="709.4" cy="1269.5" r="2.75" fill="#000"/>
<circle cx="720.7" cy="1261.7" r="2.75" fill="#000"/>
<circle cx="723.4" cy="1263.3" r="2.75" fill="#000"/>
<circle cx="716.6" cy="1274.2" r="2.75" fill="#000"/>
<circle cx="717.2" cy="1282.0" r="2.75" fill="#000"/>
<circle cx="708.4" cy="1284.9" r="2.75" fill="#000"/>
<circle cx="711.9" cy="1291.0" r="2.75" fill="#000"/>
<circle cx="700.2" cy="1281.8" r="2.75" fill="#000"/>
<circle cx="701.6" cy="1290.0" r="2.75" fill="#000"/>
<circle cx="696.1" cy="1296.2" r="2.75" fill="#000"/>
<circle cx="702.8" cy="1297.6" r="2.75" fill="#000"/>
<circle cx="691.6" cy="1288.6" r="2.75" fill="#000"/>
<circle cx="684.4" cy="1295.1" r="2.75" fill="#000"/>
<circle cx="678.0" cy="1304.0" r="2.75" fill="#000"/>
<circle cx="673.3" cy="1289.4" r="2.75" fill="#000"/>
<circle cx="669.2" cy="1284.5" r="2.75" fill="#000"/>
<circle cx="653.6" cy="1295.1" r="2.75" fill="#000"/>
<circle cx="644.8" cy="1287.3" r="2.75" fill="#000"/>
<circle cx="639.6" cy="1292.3" r="2.75" fill="#000"/>
<circle cx="633.9" cy="1286.7" r="2.75" fill="#000"/>
<circle cx="643.7" cy="1280.8" r="2.75" fill="#000"/>
<circle cx="647.4" cy="1281.8" r="2.75" fill="#000"/>
<circle cx="649.3" cy="1277.1" r="2.75" fill="#000"/>
<circle cx="638.6" cy="1271.1" r="2.75" fill="#000"/>
<circle cx="641.7" cy="1272.2" r="2.75" fill="#000"/>
<circle cx="652.0" cy="1269.9" r="2.75" fill="#000"/>
<circle cx="655.6" cy="1268.5" r="2.75" fill="#000"/>
<circle cx="654.0" cy="1261.3" r="2.75" fill="#000"/>
<circle cx="638.6" cy="1258.2" r="2.75" fill="#000"/>
<circle cx="635.1" cy="1255.1" r="2.75" fill="#000"/>
<circle cx="632.5" cy="1261.3" r="2.75" fill="#000"/>
<circle cx="632.1" cy="1266.0" r="2.75" fill="#000"/>
<circle cx="614.0" cy="1254.7" r="2.75" fill="#000"/>
<circle cx="618.1" cy="1261.9" r="2.75" fill="#000"/>
<circle cx="597.6" cy="1267.0" r="2.75" fill="#000"/>
<circle cx="600.2" cy="1274.6" r="2.75" fill="#000"/>
<circle cx="608.5" cy="1279.3" r="2.75" fill="#000"/>
<circle cx="615.0" cy="1282.4" r="2.75" fill="#000"/>
<circle cx="618.1" cy="1285.9" r="2.75" fill="#000"/>
<circle cx="611.3" cy="1287.6" r="2.75" fill="#000"/>
<circle cx="580.8" cy="1290.2" r="2.75" fill="#000"/>
<circle cx="586.3" cy="1291.7" r="2.75" fill="#000"/>
<circle cx="558.6" cy="1291.7" r="2.75" fill="#000"/>
<circle cx="552.0" cy="1269.9" r="2.75" fill="#000"/>
<circle cx="723.8" cy="1292.5" r="2.75" fill="#000"/>
<circle cx="798.3" cy="1133.5" r="2.75" fill="#000"/>
<circle cx="804.4" cy="1133.1" r="2.75" fill="#000"/>
<circle cx="874.2" cy="1132.6" r="2.75" fill="#000"/>
<circle cx="741.4" cy="1135.5" r="2.75" fill="#000"/>
<circle cx="756.8" cy="1140.2" r="2.75" fill="#000"/>
<circle cx="730.5" cy="1144.3" r="2.75" fill="#000"/>
<circle cx="766.0" cy="1147.4" r="2.75" fill="#000"/>
<circle cx="766.7" cy="1153.2" r="2.75" fill="#000"/>
<circle cx="772.6" cy="1153.0" r="2.75" fill="#000"/>
<circle cx="777.9" cy="1143.7" r="2.75" fill="#000"/>
<circle cx="795.8" cy="1139.6" r="2.75" fill="#000"/>
<circle cx="810.2" cy="1144.7" r="2.75" fill="#000"/>
<circle cx="817.3" cy="1141.9" r="2.75" fill="#000"/>
<circle cx="821.0" cy="1148.4" r="2.75" fill="#000"/>
<circle cx="819.0" cy="1153.0" r="2.75" fill="#000"/>
<circle cx="803.0" cy="1152.1" r="2.75" fill="#000"/>
<circle cx="847.1" cy="1147.4" r="2.75" fill="#000"/>
<circle cx="859.8" cy="1155.2" r="2.75" fill="#000"/>
<circle cx="843.6" cy="1157.7" r="2.75" fill="#000"/>
<circle cx="837.4" cy="1160.1" r="2.75" fill="#000"/>
<circle cx="857.3" cy="1162.4" r="2.75" fill="#000"/>
<circle cx="896.5" cy="1154.2" r="2.75" fill="#000"/>
<circle cx="883.6" cy="1163.4" r="2.75" fill="#000"/>
<circle cx="879.5" cy="1172.0" r="2.75" fill="#000"/>
<circle cx="785.1" cy="1158.1" r="2.75" fill="#000"/>
<circle cx="778.8" cy="1161.8" r="2.75" fill="#000"/>
<circle cx="777.9" cy="1166.3" r="2.75" fill="#000"/>
<circle cx="800.9" cy="1171.4" r="2.75" fill="#000"/>
<circle cx="812.2" cy="1172.0" r="2.75" fill="#000"/>
<circle cx="814.9" cy="1176.8" r="2.75" fill="#000"/>
<circle cx="807.9" cy="1180.7" r="2.75" fill="#000"/>
<circle cx="824.9" cy="1181.9" r="2.75" fill="#000"/>
<circle cx="809.5" cy="1187.8" r="2.75" fill="#000"/>
<circle cx="849.5" cy="1179.8" r="2.75" fill="#000"/>
<circle cx="854.7" cy="1178.6" r="2.75" fill="#000"/>
<circle cx="773.4" cy="1174.5" r="2.75" fill="#000"/>
<circle cx="779.6" cy="1178.6" r="2.75" fill="#000"/>
<circle cx="784.1" cy="1182.7" r="2.75" fill="#000"/>
<circle cx="790.7" cy="1186.0" r="2.75" fill="#000"/>
<circle cx="774.7" cy="1185.4" r="2.75" fill="#000"/>
<circle cx="745.5" cy="1184.8" r="2.75" fill="#000"/>
<circle cx="751.3" cy="1184.8" r="2.75" fill="#000"/>
<circle cx="752.3" cy="1189.1" r="2.75" fill="#000"/>
<circle cx="781.6" cy="1192.1" r="2.75" fill="#000"/>
<circle cx="759.9" cy="1196.7" r="2.75" fill="#000"/>
<circle cx="761.5" cy="1195.2" r="2.75" fill="#000"/>
<circle cx="803.0" cy="1197.5" r="2.75" fill="#000"/>
<circle cx="737.7" cy="1197.3" r="2.75" fill="#000"/>
<circle cx="739.4" cy="1199.3" r="2.75" fill="#000"/>
<circle cx="734.2" cy="1203.4" r="2.75" fill="#000"/>
<circle cx="741.4" cy="1203.2" r="2.75" fill="#000"/>
<circle cx="746.3" cy="1206.5" r="2.75" fill="#000"/>
<circle cx="781.4" cy="1201.8" r="2.75" fill="#000"/>
<circle cx="777.9" cy="1207.5" r="2.75" fill="#000"/>
<circle cx="763.6" cy="1207.9" r="2.75" fill="#000"/>
<circle cx="768.5" cy="1206.5" r="2.75" fill="#000"/>
<circle cx="772.2" cy="1209.0" r="2.75" fill="#000"/>
<circle cx="755.4" cy="1210.0" r="2.75" fill="#000"/>
<circle cx="757.8" cy="1212.0" r="2.75" fill="#000"/>
<circle cx="760.9" cy="1217.2" r="2.75" fill="#000"/>
<circle cx="765.0" cy="1222.9" r="2.75" fill="#000"/>
<circle cx="775.3" cy="1212.7" r="2.75" fill="#000"/>
<circle cx="783.5" cy="1216.2" r="2.75" fill="#000"/>
<circle cx="786.6" cy="1216.2" r="2.75" fill="#000"/>
<circle cx="785.9" cy="1223.3" r="2.75" fill="#000"/>
<circle cx="793.7" cy="1212.7" r="2.75" fill="#000"/>
<circle cx="802.1" cy="1216.8" r="2.75" fill="#000"/>
<circle cx="829.6" cy="1208.4" r="2.75" fill="#000"/>
<circle cx="821.4" cy="1220.3" r="2.75" fill="#000"/>
<circle cx="829.6" cy="1218.6" r="2.75" fill="#000"/>
<circle cx="827.2" cy="1224.4" r="2.75" fill="#000"/>
<circle cx="742.4" cy="1220.7" r="2.75" fill="#000"/>
<circle cx="732.8" cy="1223.7" r="2.75" fill="#000"/>
<circle cx="728.5" cy="1228.5" r="2.75" fill="#000"/>
<circle cx="736.3" cy="1227.0" r="2.75" fill="#000"/>
<circle cx="736.3" cy="1232.6" r="2.75" fill="#000"/>
<circle cx="749.2" cy="1228.5" r="2.75" fill="#000"/>
<circle cx="750.6" cy="1230.9" r="2.75" fill="#000"/>
<circle cx="756.2" cy="1226.4" r="2.75" fill="#000"/>
<circle cx="748.0" cy="1233.6" r="2.75" fill="#000"/>
<circle cx="731.2" cy="1237.7" r="2.75" fill="#000"/>
<circle cx="760.9" cy="1234.2" r="2.75" fill="#000"/>
<circle cx="773.2" cy="1233.0" r="2.75" fill="#000"/>
<circle cx="775.3" cy="1230.9" r="2.75" fill="#000"/>
<circle cx="774.9" cy="1239.1" r="2.75" fill="#000"/>
<circle cx="780.0" cy="1237.3" r="2.75" fill="#000"/>
<circle cx="783.5" cy="1239.3" r="2.75" fill="#000"/>
<circle cx="794.1" cy="1232.2" r="2.75" fill="#000"/>
<circle cx="800.5" cy="1232.2" r="2.75" fill="#000"/>
<circle cx="809.5" cy="1232.2" r="2.75" fill="#000"/>
<circle cx="813.2" cy="1236.3" r="2.75" fill="#000"/>
<circle cx="791.7" cy="1238.3" r="2.75" fill="#000"/>
<circle cx="795.4" cy="1240.8" r="2.75" fill="#000"/>
<circle cx="820.4" cy="1241.4" r="2.75" fill="#000"/>
<circle cx="836.4" cy="1238.3" r="2.75" fill="#000"/>
<circle cx="840.5" cy="1239.3" r="2.75" fill="#000"/>
<circle cx="847.1" cy="1235.0" r="2.75" fill="#000"/>
<circle cx="864.5" cy="1242.2" r="2.75" fill="#000"/>
<circle cx="838.9" cy="1245.5" r="2.75" fill="#000"/>
<circle cx="845.0" cy="1249.6" r="2.75" fill="#000"/>
<circle cx="834.4" cy="1254.3" r="2.75" fill="#000"/>
<circle cx="818.4" cy="1252.7" r="2.75" fill="#000"/>
<circle cx="740.4" cy="1243.4" r="2.75" fill="#000"/>
<circle cx="743.5" cy="1244.3" r="2.75" fill="#000"/>
<circle cx="747.0" cy="1244.9" r="2.75" fill="#000"/>
<circle cx="728.1" cy="1246.9" r="2.75" fill="#000"/>
<circle cx="738.3" cy="1246.5" r="2.75" fill="#000"/>
<circle cx="745.5" cy="1249.4" r="2.75" fill="#000"/>
<circle cx="769.7" cy="1242.4" r="2.75" fill="#000"/>
<circle cx="775.3" cy="1247.3" r="2.75" fill="#000"/>
<circle cx="771.8" cy="1249.4" r="2.75" fill="#000"/>
<circle cx="760.9" cy="1246.3" r="2.75" fill="#000"/>
<circle cx="792.3" cy="1245.3" r="2.75" fill="#000"/>
<circle cx="787.6" cy="1250.0" r="2.75" fill="#000"/>
<circle cx="785.9" cy="1253.7" r="2.75" fill="#000"/>
<circle cx="730.7" cy="1256.6" r="2.75" fill="#000"/>
<circle cx="750.0" cy="1254.7" r="2.75" fill="#000"/>
<circle cx="752.7" cy="1257.6" r="2.75" fill="#000"/>
<circle cx="747.2" cy="1258.2" r="2.75" fill="#000"/>
<circle cx="743.1" cy="1260.7" r="2.75" fill="#000"/>
<circle cx="771.8" cy="1257.6" r="2.75" fill="#000"/>
<circle cx="783.5" cy="1260.7" r="2.75" fill="#000"/>
<circle cx="795.4" cy="1261.3" r="2.75" fill="#000"/>
<circle cx="801.9" cy="1264.0" r="2.75" fill="#000"/>
<circle cx="800.9" cy="1266.4" r="2.75" fill="#000"/>
<circle cx="798.3" cy="1270.1" r="2.75" fill="#000"/>
<circle cx="814.9" cy="1265.8" r="2.75" fill="#000"/>
<circle cx="822.5" cy="1264.8" r="2.75" fill="#000"/>
<circle cx="825.5" cy="1266.4" r="2.75" fill="#000"/>
<circle cx="817.7" cy="1272.2" r="2.75" fill="#000"/>
<circle cx="823.5" cy="1273.4" r="2.75" fill="#000"/>
<circle cx="886.5" cy="1259.7" r="2.75" fill="#000"/>
<circle cx="867.2" cy="1271.6" r="2.75" fill="#000"/>
<circle cx="732.2" cy="1264.0" r="2.75" fill="#000"/>
<circle cx="734.8" cy="1264.4" r="2.75" fill="#000"/>
<circle cx="730.1" cy="1267.4" r="2.75" fill="#000"/>
<circle cx="728.7" cy="1271.6" r="2.75" fill="#000"/>
<circle cx="753.7" cy="1265.4" r="2.75" fill="#000"/>
<circle cx="758.9" cy="1262.3" r="2.75" fill="#000"/>
<circle cx="760.9" cy="1262.3" r="2.75" fill="#000"/>
<circle cx="766.0" cy="1263.3" r="2.75" fill="#000"/>
<circle cx="775.3" cy="1265.8" r="2.75" fill="#000"/>
<circle cx="787.0" cy="1267.0" r="2.75" fill="#000"/>
<circle cx="788.6" cy="1265.8" r="2.75" fill="#000"/>
<circle cx="764.0" cy="1267.4" r="2.75" fill="#000"/>
<circle cx="765.0" cy="1272.2" r="2.75" fill="#000"/>
<circle cx="758.9" cy="1271.6" r="2.75" fill="#000"/>
<circle cx="755.8" cy="1274.6" r="2.75" fill="#000"/>
<circle cx="754.1" cy="1275.7" r="2.75" fill="#000"/>
<circle cx="783.5" cy="1273.2" r="2.75" fill="#000"/>
<circle cx="765.0" cy="1277.7" r="2.75" fill="#000"/>
<circle cx="747.6" cy="1277.7" r="2.75" fill="#000"/>
<circle cx="730.5" cy="1279.3" r="2.75" fill="#000"/>
<circle cx="750.6" cy="1283.5" r="2.75" fill="#000"/>
<circle cx="758.2" cy="1286.3" r="2.75" fill="#000"/>
<circle cx="756.8" cy="1289.0" r="2.75" fill="#000"/>
<circle cx="774.7" cy="1287.6" r="2.75" fill="#000"/>
<circle cx="788.2" cy="1281.4" r="2.75" fill="#000"/>
<circle cx="794.8" cy="1280.8" r="2.75" fill="#000"/>
<circle cx="734.6" cy="1293.1" r="2.75" fill="#000"/>
<circle cx="740.0" cy="1292.5" r="2.75" fill="#000"/>
<circle cx="780.0" cy="1296.2" r="2.75" fill="#000"/>
<circle cx="749.6" cy="1301.9" r="2.75" fill="#000"/>
<circle cx="754.3" cy="1303.4" r="2.75" fill="#000"/>
<polygon points="551.8,1276.4 560.4,1274.1 569.0,1271.8 577.7,1269.5 586.3,1267.2 594.9,1264.9 603.5,1262.6 612.1,1260.2 620.7,1257.9 629.4,1255.6 638.0,1253.2 646.6,1250.8 655.2,1248.4 663.8,1246.0 672.4,1243.6 681.1,1241.1 689.7,1238.6 698.3,1236.0 706.9,1233.4 715.5,1230.7 724.1,1228.0 732.8,1225.2 741.4,1222.3 750.0,1219.3 758.6,1216.2 767.2,1213.1 775.9,1209.9 784.5,1206.7 793.1,1203.5 801.7,1200.2 810.3,1196.8 818.9,1193.5 827.6,1190.1 836.2,1186.7 844.8,1183.3 853.4,1179.9 862.0,1176.5 870.6,1173.0 879.3,1169.6 887.9,1166.2 896.5,1162.7 896.5,1188.3 887.9,1190.6 879.3,1192.9 870.6,1195.2 862.0,1197.5 853.4,1199.9 844.8,1202.2 836.2,1204.6 827.6,1206.9 818.9,1209.3 810.3,1211.7 801.7,1214.1 793.1,1216.6 784.5,1219.1 775.9,1221.6 767.2,1224.2 758.6,1226.8 750.0,1229.5 741.4,1232.3 732.8,1235.2 724.1,1238.1 715.5,1241.1 706.9,1244.2 698.3,1247.3 689.7,1250.5 681.1,1253.8 672.4,1257.1 663.8,1260.4 655.2,1263.7 646.6,1267.1 638.0,1270.4 629.4,1273.8 620.7,1277.2 612.1,1280.7 603.5,1284.1 594.9,1287.5 586.3,1291.0 577.7,1294.4 569.0,1297.9 560.4,1301.3 551.8,1304.8" fill="#999999" fill-opacity="0.4"/>
<line x1="551.8" y1="1290.6" x2="896.5" y2="1175.5" stroke="#3053B5" stroke-width="2.4"/>
<rect x="534.6" y="941.5" width="379.40" height="380.30" fill="none" stroke="#333" stroke-width="1.4"/>
<line x1="537.00" y1="1321.8" x2="537.00" y2="1325.3999999999999" stroke="#222" stroke-width="1.2"/>
<text x="537.00" y="1336.00" text-anchor="middle" font-family="'Liberation Sans', sans-serif" font-size="10.5" fill="#262626">−1.5</text>
<line x1="663.65" y1="1321.8" x2="663.65" y2="1325.3999999999999" stroke="#222" stroke-width="1.2"/>
<text x="663.65" y="1336.00" text-anchor="middle" font-family="'Liberation Sans', sans-serif" font-size="10.5" fill="#262626">−1.0</text>
<line x1="790.30" y1="1321.8" x2="790.30" y2="1325.3999999999999" stroke="#222" stroke-width="1.2"/>
<text x="790.30" y="1336.00" text-anchor="middle" font-family="'Liberation Sans', sans-serif" font-size="10.5" fill="#262626">−0.5</text>
<line x1="531.2" y1="1032.20" x2="534.6" y2="1032.20" stroke="#222" stroke-width="1.2"/>
<text x="528.4" y="1035.95" text-anchor="end" font-family="'Liberation Sans', sans-serif" font-size="10.5" fill="#262626">0.2</text>
<line x1="531.2" y1="1130.20" x2="534.6" y2="1130.20" stroke="#222" stroke-width="1.2"/>
<text x="528.4" y="1133.95" text-anchor="end" font-family="'Liberation Sans', sans-serif" font-size="10.5" fill="#262626">0.1</text>
<line x1="531.2" y1="1228.20" x2="534.6" y2="1228.20" stroke="#222" stroke-width="1.2"/>
<text x="528.4" y="1231.95" text-anchor="end" font-family="'Liberation Sans', sans-serif" font-size="10.5" fill="#262626">0.0</text>
<text x="724.1" y="1350.5" text-anchor="middle" font-family="'Liberation Sans', sans-serif" font-size="13.2" fill="#1a1a1a">riskScore</text>
<text transform="translate(508.1,1132) rotate(-90)" text-anchor="middle" font-family="'Liberation Sans', sans-serif" font-size="12.9" fill="#1a1a1a">Mesenchymal EMT score</text>
<text x="552.0" y="972.8" font-family="'Liberation Sans', sans-serif" font-size="12.9" fill="#1a1a1a"><tspan font-style="italic">R</tspan> = 0.44, <tspan font-style="italic">p</tspan> &lt; 2.2e−16</text>
<text x="49.2" y="1391" font-family="'Liberation Serif', serif" font-size="30.5" fill="#000">G</text>
<line x1="147.40" y1="1387.1" x2="147.40" y2="1766.6" stroke="#F0F0F0" stroke-width="1"/>
<line x1="271.80" y1="1387.1" x2="271.80" y2="1766.6" stroke="#F0F0F0" stroke-width="1"/>
<line x1="396.20" y1="1387.1" x2="396.20" y2="1766.6" stroke="#F0F0F0" stroke-width="1"/>
<line x1="83.0" y1="1417.35" x2="455.6" y2="1417.35" stroke="#F0F0F0" stroke-width="1"/>
<line x1="83.0" y1="1497.45" x2="455.6" y2="1497.45" stroke="#F0F0F0" stroke-width="1"/>
<line x1="83.0" y1="1577.55" x2="455.6" y2="1577.55" stroke="#F0F0F0" stroke-width="1"/>
<line x1="83.0" y1="1657.65" x2="455.6" y2="1657.65" stroke="#F0F0F0" stroke-width="1"/>
<line x1="83.0" y1="1737.75" x2="455.6" y2="1737.75" stroke="#F0F0F0" stroke-width="1"/>
<line x1="85.20" y1="1387.1" x2="85.20" y2="1766.6" stroke="#EBEBEB" stroke-width="1.3"/>
<line x1="209.60" y1="1387.1" x2="209.60" y2="1766.6" stroke="#EBEBEB" stroke-width="1.3"/>
<line x1="334.00" y1="1387.1" x2="334.00" y2="1766.6" stroke="#EBEBEB" stroke-width="1.3"/>
<line x1="83.0" y1="1457.40" x2="455.6" y2="1457.40" stroke="#EBEBEB" stroke-width="1.3"/>
<line x1="83.0" y1="1537.50" x2="455.6" y2="1537.50" stroke="#EBEBEB" stroke-width="1.3"/>
<line x1="83.0" y1="1617.60" x2="455.6" y2="1617.60" stroke="#EBEBEB" stroke-width="1.3"/>
<line x1="83.0" y1="1697.70" x2="455.6" y2="1697.70" stroke="#EBEBEB" stroke-width="1.3"/>
<circle cx="178.9" cy="1406.2" r="2.75" fill="#000"/>
<circle cx="144.6" cy="1410.2" r="2.75" fill="#000"/>
<circle cx="189.4" cy="1417.3" r="2.75" fill="#000"/>
<circle cx="191.4" cy="1423.0" r="2.75" fill="#000"/>
<circle cx="185.0" cy="1424.4" r="2.75" fill="#000"/>
<circle cx="219.3" cy="1414.3" r="2.75" fill="#000"/>
<circle cx="225.8" cy="1419.9" r="2.75" fill="#000"/>
<circle cx="134.5" cy="1426.4" r="2.75" fill="#000"/>
<circle cx="147.2" cy="1432.9" r="2.75" fill="#000"/>
<circle cx="178.3" cy="1434.1" r="2.75" fill="#000"/>
<circle cx="158.1" cy="1442.1" r="2.75" fill="#000"/>
<circle cx="164.8" cy="1439.5" r="2.75" fill="#000"/>
<circle cx="164.8" cy="1452.6" r="2.75" fill="#000"/>
<circle cx="166.8" cy="1456.3" r="2.75" fill="#000"/>
<circle cx="127.8" cy="1456.7" r="2.75" fill="#000"/>
<circle cx="181.5" cy="1447.6" r="2.75" fill="#000"/>
<circle cx="185.0" cy="1445.6" r="2.75" fill="#000"/>
<circle cx="186.0" cy="1453.2" r="2.75" fill="#000"/>
<circle cx="195.7" cy="1445.0" r="2.75" fill="#000"/>
<circle cx="202.1" cy="1444.6" r="2.75" fill="#000"/>
<circle cx="194.7" cy="1452.6" r="2.75" fill="#000"/>
<circle cx="198.1" cy="1452.2" r="2.75" fill="#000"/>
<circle cx="199.5" cy="1460.1" r="2.75" fill="#000"/>
<circle cx="179.9" cy="1462.3" r="2.75" fill="#000"/>
<circle cx="185.6" cy="1465.4" r="2.75" fill="#000"/>
<circle cx="188.4" cy="1466.8" r="2.75" fill="#000"/>
<circle cx="190.0" cy="1469.8" r="2.75" fill="#000"/>
<circle cx="200.5" cy="1469.4" r="2.75" fill="#000"/>
<circle cx="193.1" cy="1479.3" r="2.75" fill="#000"/>
<circle cx="199.7" cy="1479.9" r="2.75" fill="#000"/>
<circle cx="197.7" cy="1485.0" r="2.75" fill="#000"/>
<circle cx="201.1" cy="1482.9" r="2.75" fill="#000"/>
<circle cx="203.8" cy="1487.0" r="2.75" fill="#000"/>
<circle cx="206.2" cy="1481.9" r="2.75" fill="#000"/>
<circle cx="193.7" cy="1488.0" r="2.75" fill="#000"/>
<circle cx="209.2" cy="1488.0" r="2.75" fill="#000"/>
<circle cx="210.6" cy="1491.0" r="2.75" fill="#000"/>
<circle cx="213.9" cy="1489.6" r="2.75" fill="#000"/>
<circle cx="144.6" cy="1482.5" r="2.75" fill="#000"/>
<circle cx="125.4" cy="1498.7" r="2.75" fill="#000"/>
<circle cx="99.6" cy="1504.7" r="2.75" fill="#000"/>
<circle cx="105.6" cy="1510.2" r="2.75" fill="#000"/>
<circle cx="155.3" cy="1499.7" r="2.75" fill="#000"/>
<circle cx="161.8" cy="1500.1" r="2.75" fill="#000"/>
<circle cx="197.7" cy="1508.2" r="2.75" fill="#000"/>
<circle cx="211.2" cy="1438.9" r="2.75" fill="#000"/>
<circle cx="215.3" cy="1444.6" r="2.75" fill="#000"/>
<circle cx="217.9" cy="1437.5" r="2.75" fill="#000"/>
<circle cx="219.9" cy="1440.5" r="2.75" fill="#000"/>
<circle cx="222.3" cy="1442.1" r="2.75" fill="#000"/>
<circle cx="227.4" cy="1441.9" r="2.75" fill="#000"/>
<circle cx="215.3" cy="1450.2" r="2.75" fill="#000"/>
<circle cx="210.2" cy="1455.7" r="2.75" fill="#000"/>
<circle cx="212.2" cy="1461.7" r="2.75" fill="#000"/>
<circle cx="216.3" cy="1462.7" r="2.75" fill="#000"/>
<circle cx="218.7" cy="1458.7" r="2.75" fill="#000"/>
<circle cx="223.4" cy="1451.6" r="2.75" fill="#000"/>
<circle cx="228.0" cy="1451.0" r="2.75" fill="#000"/>
<circle cx="224.4" cy="1455.3" r="2.75" fill="#000"/>
<circle cx="226.4" cy="1457.1" r="2.75" fill="#000"/>
<circle cx="224.0" cy="1429.4" r="2.75" fill="#000"/>
<circle cx="228.4" cy="1427.8" r="2.75" fill="#000"/>
<circle cx="237.5" cy="1426.4" r="2.75" fill="#000"/>
<circle cx="241.9" cy="1421.3" r="2.75" fill="#000"/>
<circle cx="256.7" cy="1417.9" r="2.75" fill="#000"/>
<circle cx="266.4" cy="1419.7" r="2.75" fill="#000"/>
<circle cx="256.7" cy="1425.0" r="2.75" fill="#000"/>
<circle cx="261.7" cy="1428.8" r="2.75" fill="#000"/>
<circle cx="267.2" cy="1432.9" r="2.75" fill="#000"/>
<circle cx="247.0" cy="1432.4" r="2.75" fill="#000"/>
<circle cx="250.2" cy="1438.9" r="2.75" fill="#000"/>
<circle cx="256.3" cy="1436.9" r="2.75" fill="#000"/>
<circle cx="260.7" cy="1435.5" r="2.75" fill="#000"/>
<circle cx="264.7" cy="1436.9" r="2.75" fill="#000"/>
<circle cx="267.8" cy="1438.1" r="2.75" fill="#000"/>
<circle cx="258.7" cy="1441.5" r="2.75" fill="#000"/>
<circle cx="261.7" cy="1443.6" r="2.75" fill="#000"/>
<circle cx="244.6" cy="1443.6" r="2.75" fill="#000"/>
<circle cx="247.6" cy="1446.2" r="2.75" fill="#000"/>
<circle cx="254.7" cy="1446.2" r="2.75" fill="#000"/>
<circle cx="236.5" cy="1445.6" r="2.75" fill="#000"/>
<circle cx="238.5" cy="1449.0" r="2.75" fill="#000"/>
<circle cx="242.5" cy="1449.6" r="2.75" fill="#000"/>
<circle cx="252.2" cy="1453.7" r="2.75" fill="#000"/>
<circle cx="262.7" cy="1448.6" r="2.75" fill="#000"/>
<circle cx="265.8" cy="1453.7" r="2.75" fill="#000"/>
<circle cx="268.4" cy="1446.6" r="2.75" fill="#000"/>
<circle cx="244.6" cy="1455.7" r="2.75" fill="#000"/>
<circle cx="247.0" cy="1458.3" r="2.75" fill="#000"/>
<circle cx="253.6" cy="1459.1" r="2.75" fill="#000"/>
<circle cx="258.7" cy="1460.3" r="2.75" fill="#000"/>
<circle cx="234.9" cy="1460.7" r="2.75" fill="#000"/>
<circle cx="232.8" cy="1463.7" r="2.75" fill="#000"/>
<circle cx="230.8" cy="1466.4" r="2.75" fill="#000"/>
<circle cx="246.6" cy="1464.8" r="2.75" fill="#000"/>
<circle cx="249.6" cy="1468.8" r="2.75" fill="#000"/>
<circle cx="256.7" cy="1467.8" r="2.75" fill="#000"/>
<circle cx="260.7" cy="1470.8" r="2.75" fill="#000"/>
<circle cx="264.7" cy="1469.8" r="2.75" fill="#000"/>
<circle cx="267.8" cy="1465.8" r="2.75" fill="#000"/>
<circle cx="215.3" cy="1472.8" r="2.75" fill="#000"/>
<circle cx="221.3" cy="1473.8" r="2.75" fill="#000"/>
<circle cx="221.9" cy="1477.9" r="2.75" fill="#000"/>
<circle cx="252.2" cy="1477.3" r="2.75" fill="#000"/>
<circle cx="255.7" cy="1475.9" r="2.75" fill="#000"/>
<circle cx="254.0" cy="1487.0" r="2.75" fill="#000"/>
<circle cx="260.7" cy="1485.6" r="2.75" fill="#000"/>
<circle cx="267.2" cy="1485.6" r="2.75" fill="#000"/>
<circle cx="216.7" cy="1516.9" r="2.75" fill="#000"/>
<circle cx="231.4" cy="1515.8" r="2.75" fill="#000"/>
<circle cx="232.4" cy="1524.3" r="2.75" fill="#000"/>
<circle cx="238.5" cy="1527.0" r="2.75" fill="#000"/>
<circle cx="215.3" cy="1531.0" r="2.75" fill="#000"/>
<circle cx="217.3" cy="1537.5" r="2.75" fill="#000"/>
<circle cx="217.3" cy="1540.5" r="2.75" fill="#000"/>
<circle cx="213.3" cy="1544.5" r="2.75" fill="#000"/>
<circle cx="236.5" cy="1542.1" r="2.75" fill="#000"/>
<circle cx="231.8" cy="1554.6" r="2.75" fill="#000"/>
<circle cx="253.6" cy="1531.8" r="2.75" fill="#000"/>
<circle cx="268.4" cy="1550.6" r="2.75" fill="#000"/>
<circle cx="164.8" cy="1535.0" r="2.75" fill="#000"/>
<circle cx="186.0" cy="1547.6" r="2.75" fill="#000"/>
<circle cx="133.5" cy="1573.4" r="2.75" fill="#000"/>
<circle cx="310.4" cy="1407.2" r="2.75" fill="#000"/>
<circle cx="428.5" cy="1404.2" r="2.75" fill="#000"/>
<circle cx="274.4" cy="1411.2" r="2.75" fill="#000"/>
<circle cx="279.1" cy="1413.3" r="2.75" fill="#000"/>
<circle cx="290.8" cy="1412.3" r="2.75" fill="#000"/>
<circle cx="286.2" cy="1417.9" r="2.75" fill="#000"/>
<circle cx="279.7" cy="1418.3" r="2.75" fill="#000"/>
<circle cx="281.1" cy="1422.3" r="2.75" fill="#000"/>
<circle cx="284.1" cy="1423.8" r="2.75" fill="#000"/>
<circle cx="305.3" cy="1416.3" r="2.75" fill="#000"/>
<circle cx="302.3" cy="1420.3" r="2.75" fill="#000"/>
<circle cx="309.4" cy="1421.3" r="2.75" fill="#000"/>
<circle cx="316.4" cy="1416.7" r="2.75" fill="#000"/>
<circle cx="327.6" cy="1413.3" r="2.75" fill="#000"/>
<circle cx="338.7" cy="1415.3" r="2.75" fill="#000"/>
<circle cx="331.6" cy="1420.3" r="2.75" fill="#000"/>
<circle cx="336.6" cy="1419.3" r="2.75" fill="#000"/>
<circle cx="350.8" cy="1417.3" r="2.75" fill="#000"/>
<circle cx="353.2" cy="1414.3" r="2.75" fill="#000"/>
<circle cx="363.3" cy="1418.3" r="2.75" fill="#000"/>
<circle cx="365.9" cy="1418.9" r="2.75" fill="#000"/>
<circle cx="381.7" cy="1412.3" r="2.75" fill="#000"/>
<circle cx="379.5" cy="1421.9" r="2.75" fill="#000"/>
<circle cx="290.2" cy="1425.4" r="2.75" fill="#000"/>
<circle cx="289.2" cy="1428.4" r="2.75" fill="#000"/>
<circle cx="288.2" cy="1431.4" r="2.75" fill="#000"/>
<circle cx="293.8" cy="1426.4" r="2.75" fill="#000"/>
<circle cx="296.3" cy="1428.4" r="2.75" fill="#000"/>
<circle cx="300.3" cy="1430.0" r="2.75" fill="#000"/>
<circle cx="303.3" cy="1431.4" r="2.75" fill="#000"/>
<circle cx="305.3" cy="1432.9" r="2.75" fill="#000"/>
<circle cx="298.3" cy="1434.5" r="2.75" fill="#000"/>
<circle cx="295.8" cy="1436.5" r="2.75" fill="#000"/>
<circle cx="300.3" cy="1437.5" r="2.75" fill="#000"/>
<circle cx="303.3" cy="1438.9" r="2.75" fill="#000"/>
<circle cx="306.3" cy="1441.5" r="2.75" fill="#000"/>
<circle cx="309.4" cy="1444.6" r="2.75" fill="#000"/>
<circle cx="313.4" cy="1445.0" r="2.75" fill="#000"/>
<circle cx="319.5" cy="1446.2" r="2.75" fill="#000"/>
<circle cx="322.9" cy="1447.6" r="2.75" fill="#000"/>
<circle cx="273.0" cy="1432.9" r="2.75" fill="#000"/>
<circle cx="279.1" cy="1435.5" r="2.75" fill="#000"/>
<circle cx="277.1" cy="1438.9" r="2.75" fill="#000"/>
<circle cx="282.1" cy="1439.5" r="2.75" fill="#000"/>
<circle cx="289.2" cy="1442.5" r="2.75" fill="#000"/>
<circle cx="294.2" cy="1443.6" r="2.75" fill="#000"/>
<circle cx="295.2" cy="1446.6" r="2.75" fill="#000"/>
<circle cx="300.3" cy="1447.0" r="2.75" fill="#000"/>
<circle cx="276.1" cy="1449.0" r="2.75" fill="#000"/>
<circle cx="281.1" cy="1446.6" r="2.75" fill="#000"/>
<circle cx="282.1" cy="1450.2" r="2.75" fill="#000"/>
<circle cx="279.7" cy="1453.7" r="2.75" fill="#000"/>
<circle cx="284.1" cy="1452.6" r="2.75" fill="#000"/>
<circle cx="288.2" cy="1455.7" r="2.75" fill="#000"/>
<circle cx="278.1" cy="1457.7" r="2.75" fill="#000"/>
<circle cx="295.2" cy="1453.0" r="2.75" fill="#000"/>
<circle cx="303.3" cy="1449.6" r="2.75" fill="#000"/>
<circle cx="312.4" cy="1452.6" r="2.75" fill="#000"/>
<circle cx="318.5" cy="1450.6" r="2.75" fill="#000"/>
<circle cx="317.5" cy="1456.7" r="2.75" fill="#000"/>
<circle cx="323.5" cy="1454.7" r="2.75" fill="#000"/>
<circle cx="330.6" cy="1426.4" r="2.75" fill="#000"/>
<circle cx="330.2" cy="1433.5" r="2.75" fill="#000"/>
<circle cx="327.6" cy="1437.5" r="2.75" fill="#000"/>
<circle cx="325.5" cy="1441.5" r="2.75" fill="#000"/>
<circle cx="328.6" cy="1444.6" r="2.75" fill="#000"/>
<circle cx="331.6" cy="1447.6" r="2.75" fill="#000"/>
<circle cx="338.7" cy="1430.8" r="2.75" fill="#000"/>
<circle cx="336.6" cy="1435.5" r="2.75" fill="#000"/>
<circle cx="344.7" cy="1431.4" r="2.75" fill="#000"/>
<circle cx="347.7" cy="1435.5" r="2.75" fill="#000"/>
<circle cx="346.7" cy="1439.5" r="2.75" fill="#000"/>
<circle cx="351.8" cy="1433.9" r="2.75" fill="#000"/>
<circle cx="353.8" cy="1439.5" r="2.75" fill="#000"/>
<circle cx="356.4" cy="1425.0" r="2.75" fill="#000"/>
<circle cx="361.3" cy="1427.4" r="2.75" fill="#000"/>
<circle cx="364.9" cy="1432.0" r="2.75" fill="#000"/>
<circle cx="368.5" cy="1433.9" r="2.75" fill="#000"/>
<circle cx="372.0" cy="1437.9" r="2.75" fill="#000"/>
<circle cx="377.0" cy="1436.5" r="2.75" fill="#000"/>
<circle cx="383.1" cy="1437.5" r="2.75" fill="#000"/>
<circle cx="387.1" cy="1432.0" r="2.75" fill="#000"/>
<circle cx="392.8" cy="1427.4" r="2.75" fill="#000"/>
<circle cx="387.1" cy="1441.5" r="2.75" fill="#000"/>
<circle cx="340.7" cy="1452.6" r="2.75" fill="#000"/>
<circle cx="345.1" cy="1453.7" r="2.75" fill="#000"/>
<circle cx="330.6" cy="1454.7" r="2.75" fill="#000"/>
<circle cx="328.2" cy="1457.1" r="2.75" fill="#000"/>
<circle cx="330.2" cy="1460.3" r="2.75" fill="#000"/>
<circle cx="344.3" cy="1460.3" r="2.75" fill="#000"/>
<circle cx="342.7" cy="1464.8" r="2.75" fill="#000"/>
<circle cx="358.9" cy="1446.6" r="2.75" fill="#000"/>
<circle cx="358.9" cy="1450.6" r="2.75" fill="#000"/>
<circle cx="361.9" cy="1460.1" r="2.75" fill="#000"/>
<circle cx="367.9" cy="1455.7" r="2.75" fill="#000"/>
<circle cx="373.0" cy="1456.3" r="2.75" fill="#000"/>
<circle cx="368.3" cy="1463.7" r="2.75" fill="#000"/>
<circle cx="273.6" cy="1463.7" r="2.75" fill="#000"/>
<circle cx="287.8" cy="1465.8" r="2.75" fill="#000"/>
<circle cx="292.2" cy="1463.7" r="2.75" fill="#000"/>
<circle cx="306.3" cy="1461.1" r="2.75" fill="#000"/>
<circle cx="308.8" cy="1465.8" r="2.75" fill="#000"/>
<circle cx="311.4" cy="1467.8" r="2.75" fill="#000"/>
<circle cx="316.4" cy="1464.8" r="2.75" fill="#000"/>
<circle cx="319.5" cy="1466.8" r="2.75" fill="#000"/>
<circle cx="321.5" cy="1470.8" r="2.75" fill="#000"/>
<circle cx="322.9" cy="1472.8" r="2.75" fill="#000"/>
<circle cx="330.6" cy="1471.8" r="2.75" fill="#000"/>
<circle cx="336.2" cy="1472.4" r="2.75" fill="#000"/>
<circle cx="342.3" cy="1473.2" r="2.75" fill="#000"/>
<circle cx="397.2" cy="1433.5" r="2.75" fill="#000"/>
<circle cx="402.3" cy="1433.9" r="2.75" fill="#000"/>
<circle cx="408.3" cy="1431.4" r="2.75" fill="#000"/>
<circle cx="409.3" cy="1433.9" r="2.75" fill="#000"/>
<circle cx="415.4" cy="1438.9" r="2.75" fill="#000"/>
<circle cx="426.1" cy="1434.5" r="2.75" fill="#000"/>
<circle cx="438.6" cy="1424.4" r="2.75" fill="#000"/>
<circle cx="410.4" cy="1446.6" r="2.75" fill="#000"/>
<circle cx="416.4" cy="1461.7" r="2.75" fill="#000"/>
<circle cx="422.1" cy="1457.7" r="2.75" fill="#000"/>
<circle cx="380.7" cy="1471.2" r="2.75" fill="#000"/>
<circle cx="395.6" cy="1467.8" r="2.75" fill="#000"/>
<circle cx="274.4" cy="1477.9" r="2.75" fill="#000"/>
<circle cx="286.2" cy="1475.5" r="2.75" fill="#000"/>
<circle cx="297.9" cy="1480.5" r="2.75" fill="#000"/>
<circle cx="307.0" cy="1474.9" r="2.75" fill="#000"/>
<circle cx="309.4" cy="1479.3" r="2.75" fill="#000"/>
<circle cx="314.8" cy="1473.8" r="2.75" fill="#000"/>
<circle cx="316.0" cy="1476.9" r="2.75" fill="#000"/>
<circle cx="323.1" cy="1480.5" r="2.75" fill="#000"/>
<circle cx="324.1" cy="1482.9" r="2.75" fill="#000"/>
<circle cx="316.4" cy="1486.0" r="2.75" fill="#000"/>
<circle cx="309.8" cy="1487.4" r="2.75" fill="#000"/>
<circle cx="318.9" cy="1495.5" r="2.75" fill="#000"/>
<circle cx="295.8" cy="1492.6" r="2.75" fill="#000"/>
<circle cx="290.2" cy="1495.0" r="2.75" fill="#000"/>
<circle cx="300.3" cy="1497.5" r="2.75" fill="#000"/>
<circle cx="282.5" cy="1500.5" r="2.75" fill="#000"/>
<circle cx="278.1" cy="1512.2" r="2.75" fill="#000"/>
<circle cx="286.2" cy="1516.7" r="2.75" fill="#000"/>
<circle cx="297.7" cy="1518.3" r="2.75" fill="#000"/>
<circle cx="305.3" cy="1514.6" r="2.75" fill="#000"/>
<circle cx="309.4" cy="1508.8" r="2.75" fill="#000"/>
<circle cx="318.9" cy="1511.2" r="2.75" fill="#000"/>
<circle cx="325.5" cy="1512.6" r="2.75" fill="#000"/>
<circle cx="302.3" cy="1523.7" r="2.75" fill="#000"/>
<circle cx="368.3" cy="1511.2" r="2.75" fill="#000"/>
<circle cx="389.8" cy="1502.5" r="2.75" fill="#000"/>
<circle cx="389.8" cy="1529.0" r="2.75" fill="#000"/>
<circle cx="297.7" cy="1544.5" r="2.75" fill="#000"/>
<circle cx="312.8" cy="1547.6" r="2.75" fill="#000"/>
<circle cx="337.4" cy="1592.2" r="2.75" fill="#000"/>
<circle cx="255.5" cy="1605.9" r="2.75" fill="#000"/>
<circle cx="200.9" cy="1627.7" r="2.75" fill="#000"/>
<circle cx="248.6" cy="1629.7" r="2.75" fill="#000"/>
<circle cx="160.5" cy="1647.5" r="2.75" fill="#000"/>
<circle cx="150.9" cy="1698.0" r="2.75" fill="#000"/>
<circle cx="195.7" cy="1750.5" r="2.75" fill="#000"/>
<polygon points="99.6,1481.2 108.1,1480.2 116.6,1479.1 125.0,1478.1 133.5,1477.0 142.0,1476.0 150.5,1474.9 159.0,1473.9 167.4,1472.8 175.9,1471.7 184.4,1470.6 192.9,1469.5 201.4,1468.4 209.8,1467.3 218.3,1466.1 226.8,1464.9 235.3,1463.7 243.8,1462.4 252.2,1461.1 260.7,1459.7 269.2,1458.3 277.7,1456.8 286.2,1455.2 294.6,1453.6 303.1,1451.9 311.6,1450.2 320.1,1448.4 328.6,1446.5 337.0,1444.7 345.5,1442.8 354.0,1440.9 362.5,1439.0 371.0,1437.0 379.4,1435.0 387.9,1433.1 396.4,1431.1 404.9,1429.1 413.4,1427.1 421.8,1425.1 430.3,1423.1 438.8,1421.1 438.8,1442.9 430.3,1443.9 421.8,1445.0 413.4,1446.0 404.9,1447.1 396.4,1448.2 387.9,1449.2 379.4,1450.3 371.0,1451.4 362.5,1452.5 354.0,1453.6 345.5,1454.8 337.0,1455.9 328.6,1457.1 320.1,1458.3 311.6,1459.6 303.1,1460.9 294.6,1462.3 286.2,1463.7 277.7,1465.2 269.2,1466.7 260.7,1468.3 252.2,1470.0 243.8,1471.8 235.3,1473.5 226.8,1475.4 218.3,1477.2 209.8,1479.1 201.4,1481.0 192.9,1482.9 184.4,1484.9 175.9,1486.8 167.4,1488.8 159.0,1490.8 150.5,1492.8 142.0,1494.8 133.5,1496.8 125.0,1498.8 116.6,1500.8 108.1,1502.8 99.6,1504.8" fill="#999999" fill-opacity="0.4"/>
<line x1="99.6" y1="1493" x2="438.8" y2="1432" stroke="#3053B5" stroke-width="2.4"/>
<rect x="83.0" y="1387.1" width="372.60" height="379.50" fill="none" stroke="#333" stroke-width="1.4"/>
<line x1="85.20" y1="1766.6" x2="85.20" y2="1770.1999999999998" stroke="#222" stroke-width="1.2"/>
<text x="85.20" y="1780.80" text-anchor="middle" font-family="'Liberation Sans', sans-serif" font-size="10.5" fill="#262626">−1.5</text>
<line x1="209.60" y1="1766.6" x2="209.60" y2="1770.1999999999998" stroke="#222" stroke-width="1.2"/>
<text x="209.60" y="1780.80" text-anchor="middle" font-family="'Liberation Sans', sans-serif" font-size="10.5" fill="#262626">−1.0</text>
<line x1="334.00" y1="1766.6" x2="334.00" y2="1770.1999999999998" stroke="#222" stroke-width="1.2"/>
<text x="334.00" y="1780.80" text-anchor="middle" font-family="'Liberation Sans', sans-serif" font-size="10.5" fill="#262626">−0.5</text>
<line x1="79.6" y1="1457.40" x2="83.0" y2="1457.40" stroke="#222" stroke-width="1.2"/>
<text x="76.8" y="1461.15" text-anchor="end" font-family="'Liberation Sans', sans-serif" font-size="10.5" fill="#262626">0.0</text>
<line x1="79.6" y1="1537.50" x2="83.0" y2="1537.50" stroke="#222" stroke-width="1.2"/>
<text x="76.8" y="1541.25" text-anchor="end" font-family="'Liberation Sans', sans-serif" font-size="10.5" fill="#262626">−0.1</text>
<line x1="79.6" y1="1617.60" x2="83.0" y2="1617.60" stroke="#222" stroke-width="1.2"/>
<text x="76.8" y="1621.35" text-anchor="end" font-family="'Liberation Sans', sans-serif" font-size="10.5" fill="#262626">−0.2</text>
<line x1="79.6" y1="1697.70" x2="83.0" y2="1697.70" stroke="#222" stroke-width="1.2"/>
<text x="76.8" y="1701.45" text-anchor="end" font-family="'Liberation Sans', sans-serif" font-size="10.5" fill="#262626">−0.3</text>
<text x="268.9" y="1796.3" text-anchor="middle" font-family="'Liberation Sans', sans-serif" font-size="13.2" fill="#1a1a1a">riskScore</text>
<text transform="translate(50.2,1577.2) rotate(-90)" text-anchor="middle" font-family="'Liberation Sans', sans-serif" font-size="12.9" fill="#1a1a1a">Stemness score</text>
<text x="99.8" y="1418.3" font-family="'Liberation Sans', sans-serif" font-size="12.9" fill="#1a1a1a"><tspan font-style="italic">R</tspan> = 0.27, <tspan font-style="italic">p</tspan> = 2.3e−07</text>
<text x="497.3" y="1390.8" font-family="'Liberation Serif', serif" font-size="30.5" fill="#000">H</text>
<line x1="597.33" y1="1387.1" x2="597.33" y2="1766.6" stroke="#F0F0F0" stroke-width="1"/>
<line x1="724.98" y1="1387.1" x2="724.98" y2="1766.6" stroke="#F0F0F0" stroke-width="1"/>
<line x1="852.62" y1="1387.1" x2="852.62" y2="1766.6" stroke="#F0F0F0" stroke-width="1"/>
<line x1="531.3" y1="1421.66" x2="913.6" y2="1421.66" stroke="#F0F0F0" stroke-width="1"/>
<line x1="531.3" y1="1501.93" x2="913.6" y2="1501.93" stroke="#F0F0F0" stroke-width="1"/>
<line x1="531.3" y1="1582.20" x2="913.6" y2="1582.20" stroke="#F0F0F0" stroke-width="1"/>
<line x1="531.3" y1="1662.47" x2="913.6" y2="1662.47" stroke="#F0F0F0" stroke-width="1"/>
<line x1="531.3" y1="1742.74" x2="913.6" y2="1742.74" stroke="#F0F0F0" stroke-width="1"/>
<line x1="533.50" y1="1387.1" x2="533.50" y2="1766.6" stroke="#EBEBEB" stroke-width="1.3"/>
<line x1="661.15" y1="1387.1" x2="661.15" y2="1766.6" stroke="#EBEBEB" stroke-width="1.3"/>
<line x1="788.80" y1="1387.1" x2="788.80" y2="1766.6" stroke="#EBEBEB" stroke-width="1.3"/>
<line x1="531.3" y1="1461.80" x2="913.6" y2="1461.80" stroke="#EBEBEB" stroke-width="1.3"/>
<line x1="531.3" y1="1542.07" x2="913.6" y2="1542.07" stroke="#EBEBEB" stroke-width="1.3"/>
<line x1="531.3" y1="1622.34" x2="913.6" y2="1622.34" stroke="#EBEBEB" stroke-width="1.3"/>
<line x1="531.3" y1="1702.61" x2="913.6" y2="1702.61" stroke="#EBEBEB" stroke-width="1.3"/>
<circle cx="553.8" cy="1433.7" r="2.75" fill="#000"/>
<circle cx="576.6" cy="1442.6" r="2.75" fill="#000"/>
<circle cx="600.9" cy="1441.6" r="2.75" fill="#000"/>
<circle cx="610.8" cy="1429.5" r="2.75" fill="#000"/>
<circle cx="611.9" cy="1428.5" r="2.75" fill="#000"/>
<circle cx="609.8" cy="1432.7" r="2.75" fill="#000"/>
<circle cx="583.5" cy="1456.5" r="2.75" fill="#000"/>
<circle cx="594.2" cy="1452.8" r="2.75" fill="#000"/>
<circle cx="605.0" cy="1454.8" r="2.75" fill="#000"/>
<circle cx="608.1" cy="1458.6" r="2.75" fill="#000"/>
<circle cx="615.0" cy="1455.5" r="2.75" fill="#000"/>
<circle cx="617.7" cy="1451.7" r="2.75" fill="#000"/>
<circle cx="615.6" cy="1465.2" r="2.75" fill="#000"/>
<circle cx="548.0" cy="1467.3" r="2.75" fill="#000"/>
<circle cx="582.4" cy="1481.4" r="2.75" fill="#000"/>
<circle cx="596.3" cy="1501.7" r="2.75" fill="#000"/>
<circle cx="614.6" cy="1489.7" r="2.75" fill="#000"/>
<circle cx="629.1" cy="1495.5" r="2.75" fill="#000"/>
<circle cx="641.3" cy="1490.3" r="2.75" fill="#000"/>
<circle cx="635.7" cy="1479.7" r="2.75" fill="#000"/>
<circle cx="648.8" cy="1471.6" r="2.75" fill="#000"/>
<circle cx="650.2" cy="1503.1" r="2.75" fill="#000"/>
<circle cx="645.7" cy="1515.6" r="2.75" fill="#000"/>
<circle cx="628.5" cy="1466.4" r="2.75" fill="#000"/>
<circle cx="632.6" cy="1462.7" r="2.75" fill="#000"/>
<circle cx="635.7" cy="1468.9" r="2.75" fill="#000"/>
<circle cx="653.7" cy="1465.8" r="2.75" fill="#000"/>
<circle cx="663.7" cy="1460.6" r="2.75" fill="#000"/>
<circle cx="674.1" cy="1465.8" r="2.75" fill="#000"/>
<circle cx="667.8" cy="1467.9" r="2.75" fill="#000"/>
<circle cx="671.0" cy="1473.1" r="2.75" fill="#000"/>
<circle cx="672.0" cy="1476.2" r="2.75" fill="#000"/>
<circle cx="688.6" cy="1459.6" r="2.75" fill="#000"/>
<circle cx="695.8" cy="1460.6" r="2.75" fill="#000"/>
<circle cx="687.5" cy="1465.8" r="2.75" fill="#000"/>
<circle cx="700.0" cy="1465.8" r="2.75" fill="#000"/>
<circle cx="706.2" cy="1459.6" r="2.75" fill="#000"/>
<circle cx="713.5" cy="1465.8" r="2.75" fill="#000"/>
<circle cx="711.4" cy="1471.0" r="2.75" fill="#000"/>
<circle cx="720.7" cy="1474.1" r="2.75" fill="#000"/>
<circle cx="684.4" cy="1480.3" r="2.75" fill="#000"/>
<circle cx="689.6" cy="1481.8" r="2.75" fill="#000"/>
<circle cx="676.1" cy="1483.5" r="2.75" fill="#000"/>
<circle cx="673.7" cy="1486.6" r="2.75" fill="#000"/>
<circle cx="707.2" cy="1482.0" r="2.75" fill="#000"/>
<circle cx="718.6" cy="1482.0" r="2.75" fill="#000"/>
<circle cx="715.5" cy="1488.0" r="2.75" fill="#000"/>
<circle cx="674.7" cy="1501.1" r="2.75" fill="#000"/>
<circle cx="677.8" cy="1506.7" r="2.75" fill="#000"/>
<circle cx="713.0" cy="1496.3" r="2.75" fill="#000"/>
<circle cx="719.3" cy="1500.0" r="2.75" fill="#000"/>
<circle cx="715.5" cy="1508.3" r="2.75" fill="#000"/>
<circle cx="714.1" cy="1522.8" r="2.75" fill="#000"/>
<circle cx="720.3" cy="1523.3" r="2.75" fill="#000"/>
<circle cx="657.5" cy="1533.6" r="2.75" fill="#000"/>
<circle cx="666.2" cy="1536.9" r="2.75" fill="#000"/>
<circle cx="673.0" cy="1533.6" r="2.75" fill="#000"/>
<circle cx="696.9" cy="1535.7" r="2.75" fill="#000"/>
<circle cx="700.0" cy="1539.0" r="2.75" fill="#000"/>
<circle cx="702.1" cy="1541.1" r="2.75" fill="#000"/>
<circle cx="707.2" cy="1537.4" r="2.75" fill="#000"/>
<circle cx="712.4" cy="1542.5" r="2.75" fill="#000"/>
<circle cx="719.3" cy="1538.4" r="2.75" fill="#000"/>
<circle cx="664.7" cy="1558.5" r="2.75" fill="#000"/>
<circle cx="816.9" cy="1404.0" r="2.75" fill="#000"/>
<circle cx="828.7" cy="1407.4" r="2.75" fill="#000"/>
<circle cx="823.1" cy="1412.5" r="2.75" fill="#000"/>
<circle cx="824.6" cy="1411.3" r="2.75" fill="#000"/>
<circle cx="885.8" cy="1418.6" r="2.75" fill="#000"/>
<circle cx="792.0" cy="1422.9" r="2.75" fill="#000"/>
<circle cx="813.6" cy="1421.7" r="2.75" fill="#000"/>
<circle cx="821.1" cy="1426.4" r="2.75" fill="#000"/>
<circle cx="794.5" cy="1434.1" r="2.75" fill="#000"/>
<circle cx="799.7" cy="1432.0" r="2.75" fill="#000"/>
<circle cx="796.6" cy="1436.8" r="2.75" fill="#000"/>
<circle cx="800.8" cy="1435.1" r="2.75" fill="#000"/>
<circle cx="835.0" cy="1432.7" r="2.75" fill="#000"/>
<circle cx="839.5" cy="1436.8" r="2.75" fill="#000"/>
<circle cx="791.8" cy="1451.9" r="2.75" fill="#000"/>
<circle cx="802.4" cy="1453.4" r="2.75" fill="#000"/>
<circle cx="813.8" cy="1443.6" r="2.75" fill="#000"/>
<circle cx="818.8" cy="1449.2" r="2.75" fill="#000"/>
<circle cx="812.8" cy="1452.3" r="2.75" fill="#000"/>
<circle cx="821.9" cy="1454.4" r="2.75" fill="#000"/>
<circle cx="826.7" cy="1447.6" r="2.75" fill="#000"/>
<circle cx="829.4" cy="1446.1" r="2.75" fill="#000"/>
<circle cx="843.3" cy="1446.1" r="2.75" fill="#000"/>
<circle cx="848.9" cy="1449.2" r="2.75" fill="#000"/>
<circle cx="854.7" cy="1453.4" r="2.75" fill="#000"/>
<circle cx="859.4" cy="1453.4" r="2.75" fill="#000"/>
<circle cx="873.3" cy="1449.7" r="2.75" fill="#000"/>
<circle cx="879.1" cy="1446.8" r="2.75" fill="#000"/>
<circle cx="883.1" cy="1439.5" r="2.75" fill="#000"/>
<circle cx="896.1" cy="1444.7" r="2.75" fill="#000"/>
<circle cx="737.5" cy="1458.6" r="2.75" fill="#000"/>
<circle cx="770.7" cy="1459.6" r="2.75" fill="#000"/>
<circle cx="789.3" cy="1458.6" r="2.75" fill="#000"/>
<circle cx="800.8" cy="1458.2" r="2.75" fill="#000"/>
<circle cx="807.0" cy="1460.6" r="2.75" fill="#000"/>
<circle cx="820.5" cy="1458.6" r="2.75" fill="#000"/>
<circle cx="823.6" cy="1460.6" r="2.75" fill="#000"/>
<circle cx="856.7" cy="1457.5" r="2.75" fill="#000"/>
<circle cx="864.0" cy="1458.2" r="2.75" fill="#000"/>
<circle cx="753.1" cy="1465.8" r="2.75" fill="#000"/>
<circle cx="767.6" cy="1464.8" r="2.75" fill="#000"/>
<circle cx="775.9" cy="1466.9" r="2.75" fill="#000"/>
<circle cx="786.2" cy="1465.8" r="2.75" fill="#000"/>
<circle cx="797.6" cy="1468.5" r="2.75" fill="#000"/>
<circle cx="807.0" cy="1465.8" r="2.75" fill="#000"/>
<circle cx="808.4" cy="1467.9" r="2.75" fill="#000"/>
<circle cx="816.7" cy="1468.5" r="2.75" fill="#000"/>
<circle cx="824.0" cy="1468.9" r="2.75" fill="#000"/>
<circle cx="837.5" cy="1468.5" r="2.75" fill="#000"/>
<circle cx="846.0" cy="1463.8" r="2.75" fill="#000"/>
<circle cx="852.0" cy="1466.9" r="2.75" fill="#000"/>
<circle cx="866.1" cy="1468.5" r="2.75" fill="#000"/>
<circle cx="744.8" cy="1468.5" r="2.75" fill="#000"/>
<circle cx="729.2" cy="1470.0" r="2.75" fill="#000"/>
<circle cx="759.3" cy="1468.9" r="2.75" fill="#000"/>
<circle cx="764.1" cy="1472.0" r="2.75" fill="#000"/>
<circle cx="769.7" cy="1472.7" r="2.75" fill="#000"/>
<circle cx="784.8" cy="1470.0" r="2.75" fill="#000"/>
<circle cx="785.8" cy="1474.5" r="2.75" fill="#000"/>
<circle cx="732.3" cy="1473.1" r="2.75" fill="#000"/>
<circle cx="735.4" cy="1476.6" r="2.75" fill="#000"/>
<circle cx="742.7" cy="1476.2" r="2.75" fill="#000"/>
<circle cx="751.0" cy="1475.8" r="2.75" fill="#000"/>
<circle cx="749.5" cy="1480.8" r="2.75" fill="#000"/>
<circle cx="776.5" cy="1480.8" r="2.75" fill="#000"/>
<circle cx="824.0" cy="1473.7" r="2.75" fill="#000"/>
<circle cx="836.6" cy="1473.7" r="2.75" fill="#000"/>
<circle cx="846.0" cy="1475.8" r="2.75" fill="#000"/>
<circle cx="872.3" cy="1477.2" r="2.75" fill="#000"/>
<circle cx="861.3" cy="1481.8" r="2.75" fill="#000"/>
<circle cx="866.7" cy="1492.2" r="2.75" fill="#000"/>
<circle cx="842.6" cy="1489.7" r="2.75" fill="#000"/>
<circle cx="833.5" cy="1484.9" r="2.75" fill="#000"/>
<circle cx="820.5" cy="1484.1" r="2.75" fill="#000"/>
<circle cx="811.1" cy="1486.1" r="2.75" fill="#000"/>
<circle cx="790.4" cy="1484.5" r="2.75" fill="#000"/>
<circle cx="794.5" cy="1487.6" r="2.75" fill="#000"/>
<circle cx="799.1" cy="1486.6" r="2.75" fill="#000"/>
<circle cx="729.2" cy="1482.4" r="2.75" fill="#000"/>
<circle cx="731.3" cy="1484.9" r="2.75" fill="#000"/>
<circle cx="727.1" cy="1490.7" r="2.75" fill="#000"/>
<circle cx="734.8" cy="1494.2" r="2.75" fill="#000"/>
<circle cx="767.0" cy="1493.2" r="2.75" fill="#000"/>
<circle cx="793.9" cy="1498.6" r="2.75" fill="#000"/>
<circle cx="759.9" cy="1502.1" r="2.75" fill="#000"/>
<circle cx="748.3" cy="1509.8" r="2.75" fill="#000"/>
<circle cx="758.2" cy="1511.4" r="2.75" fill="#000"/>
<circle cx="770.7" cy="1506.7" r="2.75" fill="#000"/>
<circle cx="785.2" cy="1506.7" r="2.75" fill="#000"/>
<circle cx="796.6" cy="1512.5" r="2.75" fill="#000"/>
<circle cx="733.0" cy="1517.0" r="2.75" fill="#000"/>
<circle cx="726.1" cy="1526.6" r="2.75" fill="#000"/>
<circle cx="756.2" cy="1532.2" r="2.75" fill="#000"/>
<circle cx="758.9" cy="1528.7" r="2.75" fill="#000"/>
<circle cx="768.0" cy="1533.6" r="2.75" fill="#000"/>
<circle cx="777.9" cy="1526.4" r="2.75" fill="#000"/>
<circle cx="777.9" cy="1529.1" r="2.75" fill="#000"/>
<circle cx="777.9" cy="1534.3" r="2.75" fill="#000"/>
<circle cx="740.0" cy="1541.1" r="2.75" fill="#000"/>
<circle cx="732.3" cy="1549.2" r="2.75" fill="#000"/>
<circle cx="574.5" cy="1583.0" r="2.75" fill="#000"/>
<circle cx="593.2" cy="1591.8" r="2.75" fill="#000"/>
<circle cx="694.0" cy="1594.2" r="2.75" fill="#000"/>
<circle cx="763.6" cy="1609.2" r="2.75" fill="#000"/>
<circle cx="781.9" cy="1608.8" r="2.75" fill="#000"/>
<circle cx="779.8" cy="1684.2" r="2.75" fill="#000"/>
<circle cx="761.2" cy="1750.2" r="2.75" fill="#000"/>
<circle cx="801.4" cy="1748.9" r="2.75" fill="#000"/>
<circle cx="737.9" cy="1415.2" r="2.75" fill="#000"/>
<circle cx="714.6" cy="1421.0" r="2.75" fill="#000"/>
<circle cx="731.1" cy="1420.1" r="2.75" fill="#000"/>
<circle cx="751.0" cy="1417.1" r="2.75" fill="#000"/>
<circle cx="744.7" cy="1424.4" r="2.75" fill="#000"/>
<circle cx="747.6" cy="1423.0" r="2.75" fill="#000"/>
<circle cx="752.5" cy="1420.6" r="2.75" fill="#000"/>
<circle cx="755.4" cy="1423.0" r="2.75" fill="#000"/>
<circle cx="757.3" cy="1425.9" r="2.75" fill="#000"/>
<circle cx="755.9" cy="1429.3" r="2.75" fill="#000"/>
<circle cx="764.1" cy="1424.0" r="2.75" fill="#000"/>
<circle cx="772.9" cy="1422.0" r="2.75" fill="#000"/>
<circle cx="723.3" cy="1424.4" r="2.75" fill="#000"/>
<circle cx="720.9" cy="1426.9" r="2.75" fill="#000"/>
<circle cx="727.2" cy="1425.9" r="2.75" fill="#000"/>
<circle cx="732.6" cy="1427.4" r="2.75" fill="#000"/>
<circle cx="725.8" cy="1428.3" r="2.75" fill="#000"/>
<circle cx="708.7" cy="1429.3" r="2.75" fill="#000"/>
<circle cx="705.8" cy="1431.7" r="2.75" fill="#000"/>
<circle cx="711.7" cy="1432.7" r="2.75" fill="#000"/>
<circle cx="717.5" cy="1431.2" r="2.75" fill="#000"/>
<circle cx="719.4" cy="1433.2" r="2.75" fill="#000"/>
<circle cx="713.6" cy="1436.1" r="2.75" fill="#000"/>
<circle cx="710.7" cy="1439.0" r="2.75" fill="#000"/>
<circle cx="779.7" cy="1430.8" r="2.75" fill="#000"/>
<circle cx="783.6" cy="1429.3" r="2.75" fill="#000"/>
<circle cx="787.5" cy="1430.3" r="2.75" fill="#000"/>
<circle cx="789.4" cy="1422.5" r="2.75" fill="#000"/>
<circle cx="722.4" cy="1439.0" r="2.75" fill="#000"/>
<circle cx="729.2" cy="1439.0" r="2.75" fill="#000"/>
<circle cx="741.8" cy="1436.1" r="2.75" fill="#000"/>
<circle cx="748.6" cy="1435.1" r="2.75" fill="#000"/>
<circle cx="736.9" cy="1439.0" r="2.75" fill="#000"/>
<circle cx="739.8" cy="1441.9" r="2.75" fill="#000"/>
<circle cx="743.7" cy="1440.0" r="2.75" fill="#000"/>
<circle cx="745.7" cy="1442.9" r="2.75" fill="#000"/>
<circle cx="750.5" cy="1438.5" r="2.75" fill="#000"/>
<circle cx="754.4" cy="1440.0" r="2.75" fill="#000"/>
<circle cx="758.3" cy="1439.0" r="2.75" fill="#000"/>
<circle cx="762.2" cy="1438.5" r="2.75" fill="#000"/>
<circle cx="764.1" cy="1441.9" r="2.75" fill="#000"/>
<circle cx="760.3" cy="1443.9" r="2.75" fill="#000"/>
<circle cx="770.0" cy="1435.1" r="2.75" fill="#000"/>
<circle cx="771.9" cy="1440.0" r="2.75" fill="#000"/>
<circle cx="772.9" cy="1443.9" r="2.75" fill="#000"/>
<circle cx="781.6" cy="1437.1" r="2.75" fill="#000"/>
<circle cx="783.6" cy="1441.0" r="2.75" fill="#000"/>
<circle cx="785.0" cy="1444.8" r="2.75" fill="#000"/>
<circle cx="716.5" cy="1443.9" r="2.75" fill="#000"/>
<circle cx="702.9" cy="1441.0" r="2.75" fill="#000"/>
<circle cx="701.0" cy="1438.0" r="2.75" fill="#000"/>
<circle cx="729.2" cy="1446.8" r="2.75" fill="#000"/>
<circle cx="732.1" cy="1449.7" r="2.75" fill="#000"/>
<circle cx="735.0" cy="1451.7" r="2.75" fill="#000"/>
<circle cx="738.9" cy="1445.8" r="2.75" fill="#000"/>
<circle cx="740.8" cy="1448.7" r="2.75" fill="#000"/>
<circle cx="742.8" cy="1452.6" r="2.75" fill="#000"/>
<circle cx="746.7" cy="1448.7" r="2.75" fill="#000"/>
<circle cx="748.6" cy="1445.8" r="2.75" fill="#000"/>
<circle cx="752.5" cy="1446.8" r="2.75" fill="#000"/>
<circle cx="756.4" cy="1448.7" r="2.75" fill="#000"/>
<circle cx="759.3" cy="1450.7" r="2.75" fill="#000"/>
<circle cx="762.2" cy="1452.6" r="2.75" fill="#000"/>
<circle cx="764.1" cy="1447.8" r="2.75" fill="#000"/>
<circle cx="767.1" cy="1445.8" r="2.75" fill="#000"/>
<circle cx="773.9" cy="1448.7" r="2.75" fill="#000"/>
<circle cx="774.8" cy="1451.7" r="2.75" fill="#000"/>
<circle cx="777.8" cy="1454.6" r="2.75" fill="#000"/>
<circle cx="781.6" cy="1455.5" r="2.75" fill="#000"/>
<circle cx="784.6" cy="1447.8" r="2.75" fill="#000"/>
<circle cx="705.8" cy="1448.7" r="2.75" fill="#000"/>
<circle cx="708.7" cy="1451.7" r="2.75" fill="#000"/>
<circle cx="710.7" cy="1453.6" r="2.75" fill="#000"/>
<circle cx="720.4" cy="1456.5" r="2.75" fill="#000"/>
<circle cx="725.3" cy="1454.6" r="2.75" fill="#000"/>
<circle cx="736.9" cy="1455.5" r="2.75" fill="#000"/>
<circle cx="740.8" cy="1456.5" r="2.75" fill="#000"/>
<circle cx="744.7" cy="1455.5" r="2.75" fill="#000"/>
<circle cx="758.3" cy="1455.5" r="2.75" fill="#000"/>
<circle cx="770.0" cy="1458.5" r="2.75" fill="#000"/>
<circle cx="762.2" cy="1456.5" r="2.75" fill="#000"/>
<circle cx="636.3" cy="1423.0" r="2.75" fill="#000"/>
<circle cx="631.0" cy="1428.8" r="2.75" fill="#000"/>
<circle cx="639.7" cy="1429.8" r="2.75" fill="#000"/>
<circle cx="647.0" cy="1426.9" r="2.75" fill="#000"/>
<circle cx="649.4" cy="1419.6" r="2.75" fill="#000"/>
<circle cx="651.9" cy="1421.0" r="2.75" fill="#000"/>
<circle cx="650.9" cy="1417.6" r="2.75" fill="#000"/>
<circle cx="652.8" cy="1435.1" r="2.75" fill="#000"/>
<circle cx="644.1" cy="1437.1" r="2.75" fill="#000"/>
<circle cx="640.7" cy="1439.5" r="2.75" fill="#000"/>
<circle cx="644.6" cy="1442.9" r="2.75" fill="#000"/>
<circle cx="636.3" cy="1446.8" r="2.75" fill="#000"/>
<circle cx="640.2" cy="1446.8" r="2.75" fill="#000"/>
<circle cx="649.4" cy="1448.7" r="2.75" fill="#000"/>
<circle cx="650.9" cy="1447.3" r="2.75" fill="#000"/>
<circle cx="649.0" cy="1451.2" r="2.75" fill="#000"/>
<circle cx="653.8" cy="1457.5" r="2.75" fill="#000"/>
<circle cx="667.9" cy="1415.7" r="2.75" fill="#000"/>
<circle cx="668.4" cy="1419.6" r="2.75" fill="#000"/>
<circle cx="668.9" cy="1423.5" r="2.75" fill="#000"/>
<circle cx="666.9" cy="1426.9" r="2.75" fill="#000"/>
<circle cx="664.0" cy="1428.3" r="2.75" fill="#000"/>
<circle cx="660.1" cy="1430.3" r="2.75" fill="#000"/>
<circle cx="668.4" cy="1430.8" r="2.75" fill="#000"/>
<circle cx="666.0" cy="1437.1" r="2.75" fill="#000"/>
<circle cx="669.8" cy="1439.0" r="2.75" fill="#000"/>
<circle cx="671.3" cy="1441.9" r="2.75" fill="#000"/>
<circle cx="661.1" cy="1442.9" r="2.75" fill="#000"/>
<circle cx="667.4" cy="1446.8" r="2.75" fill="#000"/>
<circle cx="668.4" cy="1449.7" r="2.75" fill="#000"/>
<circle cx="669.4" cy="1452.6" r="2.75" fill="#000"/>
<circle cx="670.8" cy="1455.1" r="2.75" fill="#000"/>
<circle cx="675.7" cy="1428.3" r="2.75" fill="#000"/>
<circle cx="680.5" cy="1430.8" r="2.75" fill="#000"/>
<circle cx="683.0" cy="1429.8" r="2.75" fill="#000"/>
<circle cx="684.4" cy="1432.7" r="2.75" fill="#000"/>
<circle cx="678.6" cy="1445.8" r="2.75" fill="#000"/>
<circle cx="680.5" cy="1443.9" r="2.75" fill="#000"/>
<circle cx="682.5" cy="1442.9" r="2.75" fill="#000"/>
<circle cx="676.7" cy="1447.8" r="2.75" fill="#000"/>
<circle cx="680.5" cy="1450.7" r="2.75" fill="#000"/>
<circle cx="683.5" cy="1452.6" r="2.75" fill="#000"/>
<circle cx="685.4" cy="1453.6" r="2.75" fill="#000"/>
<circle cx="689.3" cy="1439.0" r="2.75" fill="#000"/>
<circle cx="690.3" cy="1443.9" r="2.75" fill="#000"/>
<circle cx="688.3" cy="1445.8" r="2.75" fill="#000"/>
<circle cx="693.2" cy="1419.6" r="2.75" fill="#000"/>
<circle cx="698.0" cy="1434.2" r="2.75" fill="#000"/>
<circle cx="696.1" cy="1437.1" r="2.75" fill="#000"/>
<circle cx="699.0" cy="1451.7" r="2.75" fill="#000"/>
<circle cx="697.1" cy="1455.5" r="2.75" fill="#000"/>
<polygon points="548.0,1449.9 556.7,1450.4 565.4,1451.0 574.2,1451.5 582.9,1452.0 591.6,1452.6 600.3,1453.1 609.0,1453.6 617.7,1454.1 626.5,1454.6 635.2,1455.1 643.9,1455.5 652.6,1456.0 661.3,1456.4 670.0,1456.8 678.8,1457.2 687.5,1457.5 696.2,1457.8 704.9,1458.1 713.6,1458.3 722.4,1458.4 731.1,1458.5 739.8,1458.5 748.5,1458.4 757.2,1458.3 765.9,1458.0 774.7,1457.8 783.4,1457.5 792.1,1457.1 800.8,1456.7 809.5,1456.3 818.2,1455.9 827.0,1455.4 835.7,1455.0 844.4,1454.5 853.1,1454.0 861.8,1453.5 870.5,1453.0 879.3,1452.5 888.0,1451.9 896.7,1451.4 896.7,1474.8 888.0,1474.3 879.3,1473.7 870.5,1473.2 861.8,1472.7 853.1,1472.2 844.4,1471.7 835.7,1471.2 827.0,1470.8 818.2,1470.3 809.5,1469.9 800.8,1469.5 792.1,1469.1 783.4,1468.7 774.7,1468.4 765.9,1468.2 757.2,1467.9 748.5,1467.8 739.8,1467.7 731.1,1467.7 722.4,1467.8 713.6,1467.9 704.9,1468.1 696.2,1468.4 687.5,1468.7 678.8,1469.0 670.0,1469.4 661.3,1469.8 652.6,1470.2 643.9,1470.7 635.2,1471.1 626.5,1471.6 617.7,1472.1 609.0,1472.6 600.3,1473.1 591.6,1473.6 582.9,1474.2 574.2,1474.7 565.4,1475.2 556.7,1475.8 548.0,1476.3" fill="#999999" fill-opacity="0.4"/>
<line x1="548" y1="1463.1" x2="896.7" y2="1463.1" stroke="#3053B5" stroke-width="2.4"/>
<rect x="531.3" y="1387.1" width="382.30" height="379.50" fill="none" stroke="#333" stroke-width="1.4"/>
<line x1="533.50" y1="1766.6" x2="533.50" y2="1770.1999999999998" stroke="#222" stroke-width="1.2"/>
<text x="533.50" y="1780.80" text-anchor="middle" font-family="'Liberation Sans', sans-serif" font-size="10.5" fill="#262626">−1.5</text>
<line x1="661.15" y1="1766.6" x2="661.15" y2="1770.1999999999998" stroke="#222" stroke-width="1.2"/>
<text x="661.15" y="1780.80" text-anchor="middle" font-family="'Liberation Sans', sans-serif" font-size="10.5" fill="#262626">−1.0</text>
<line x1="788.80" y1="1766.6" x2="788.80" y2="1770.1999999999998" stroke="#222" stroke-width="1.2"/>
<text x="788.80" y="1780.80" text-anchor="middle" font-family="'Liberation Sans', sans-serif" font-size="10.5" fill="#262626">−0.5</text>
<line x1="527.9" y1="1461.80" x2="531.3" y2="1461.80" stroke="#222" stroke-width="1.2"/>
<text x="525.0999999999999" y="1465.55" text-anchor="end" font-family="'Liberation Sans', sans-serif" font-size="10.5" fill="#262626">0.0</text>
<line x1="527.9" y1="1542.07" x2="531.3" y2="1542.07" stroke="#222" stroke-width="1.2"/>
<text x="525.0999999999999" y="1545.82" text-anchor="end" font-family="'Liberation Sans', sans-serif" font-size="10.5" fill="#262626">−0.1</text>
<line x1="527.9" y1="1622.34" x2="531.3" y2="1622.34" stroke="#222" stroke-width="1.2"/>
<text x="525.0999999999999" y="1626.09" text-anchor="end" font-family="'Liberation Sans', sans-serif" font-size="10.5" fill="#262626">−0.2</text>
<line x1="527.9" y1="1702.61" x2="531.3" y2="1702.61" stroke="#222" stroke-width="1.2"/>
<text x="525.0999999999999" y="1706.36" text-anchor="end" font-family="'Liberation Sans', sans-serif" font-size="10.5" fill="#262626">−0.3</text>
<text x="722.4" y="1796.3" text-anchor="middle" font-family="'Liberation Sans', sans-serif" font-size="13.2" fill="#1a1a1a">riskScore</text>
<text transform="translate(496.9,1576.8) rotate(-90)" text-anchor="middle" font-family="'Liberation Sans', sans-serif" font-size="12.9" fill="#1a1a1a">Tumorigenic cytokines score</text>
<text x="548.2" y="1418.6" font-family="'Liberation Sans', sans-serif" font-size="13.3" fill="#1a1a1a"><tspan font-style="italic">R</tspan> = −<tspan dx="2.2">0.03, </tspan><tspan font-style="italic">p</tspan> = 0.57</text>
</svg>
</body></html>
